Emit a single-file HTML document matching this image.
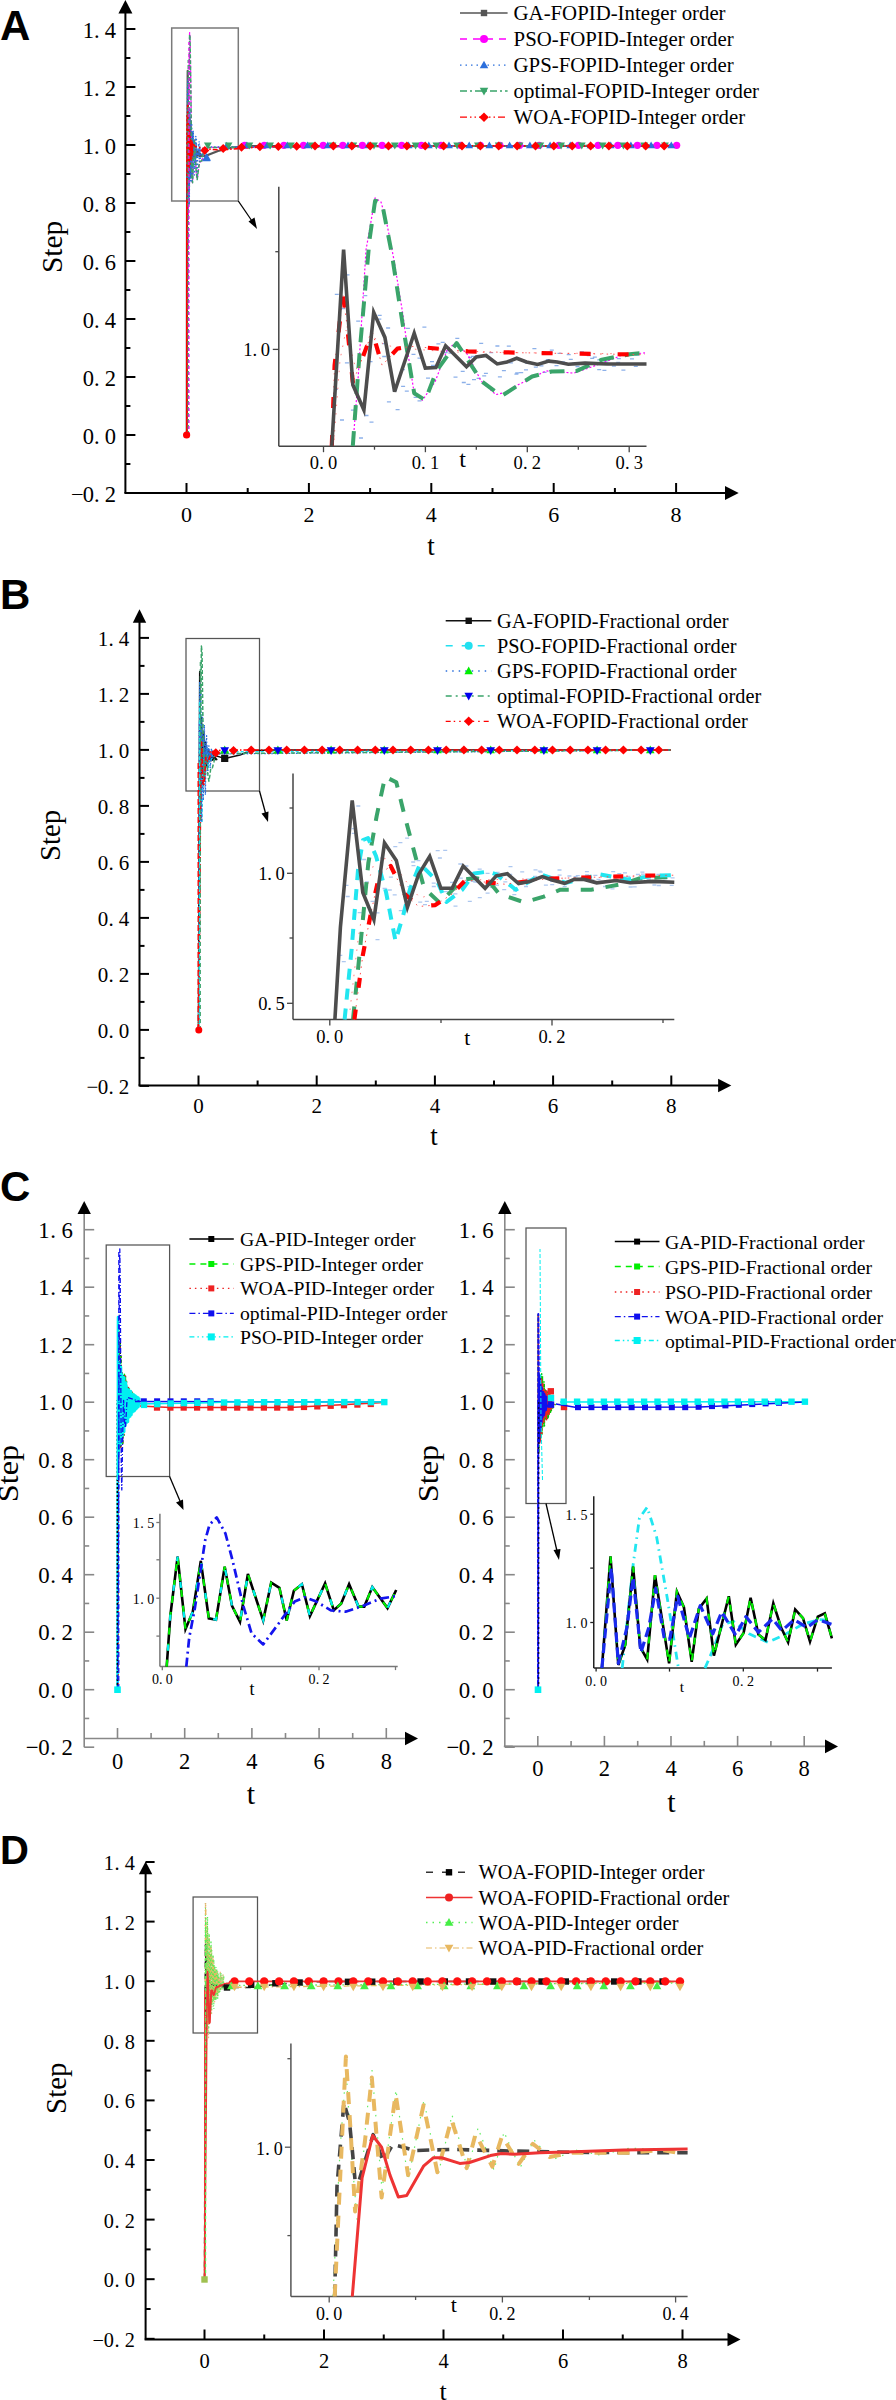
<!DOCTYPE html>
<html><head><meta charset="utf-8"><style>html,body{margin:0;padding:0;background:#fff;}svg{display:block;}</style></head>
<body><svg width="896" height="2400" viewBox="0 0 896 2400">
<rect width="896" height="2400" fill="#fff"/>
<text x="0" y="39.6" font-family='"Liberation Sans", sans-serif' font-size="42" font-weight="bold" text-anchor="start" fill="#000" >A</text>
<line x1="125.4" y1="12.4" x2="125.4" y2="493" stroke="#000" stroke-width="2" />
<polygon points="125.4,0 118.4,13.4 132.4,13.4" fill="#000"/>
<line x1="125.4" y1="29" x2="135.4" y2="29" stroke="#000" stroke-width="2" />
<text x="110.3" y="37.5" font-family='"Liberation Serif", serif' font-size="22.5" font-weight="normal" text-anchor="middle" fill="#000" >4</text>
<text x="96.88" y="37.5" font-family='"Liberation Serif", serif' font-size="22.5" font-weight="normal" text-anchor="middle" fill="#000" >.</text>
<text x="88.3" y="37.5" font-family='"Liberation Serif", serif' font-size="22.5" font-weight="normal" text-anchor="middle" fill="#000" >1</text>
<line x1="125.4" y1="58.0" x2="130.4" y2="58.0" stroke="#000" stroke-width="2" />
<line x1="125.4" y1="87" x2="135.4" y2="87" stroke="#000" stroke-width="2" />
<text x="110.3" y="95.5" font-family='"Liberation Serif", serif' font-size="22.5" font-weight="normal" text-anchor="middle" fill="#000" >2</text>
<text x="96.88" y="95.5" font-family='"Liberation Serif", serif' font-size="22.5" font-weight="normal" text-anchor="middle" fill="#000" >.</text>
<text x="88.3" y="95.5" font-family='"Liberation Serif", serif' font-size="22.5" font-weight="normal" text-anchor="middle" fill="#000" >1</text>
<line x1="125.4" y1="116.0" x2="130.4" y2="116.0" stroke="#000" stroke-width="2" />
<line x1="125.4" y1="145" x2="135.4" y2="145" stroke="#000" stroke-width="2" />
<text x="110.3" y="153.5" font-family='"Liberation Serif", serif' font-size="22.5" font-weight="normal" text-anchor="middle" fill="#000" >0</text>
<text x="96.88" y="153.5" font-family='"Liberation Serif", serif' font-size="22.5" font-weight="normal" text-anchor="middle" fill="#000" >.</text>
<text x="88.3" y="153.5" font-family='"Liberation Serif", serif' font-size="22.5" font-weight="normal" text-anchor="middle" fill="#000" >1</text>
<line x1="125.4" y1="174.0" x2="130.4" y2="174.0" stroke="#000" stroke-width="2" />
<line x1="125.4" y1="203" x2="135.4" y2="203" stroke="#000" stroke-width="2" />
<text x="110.3" y="211.5" font-family='"Liberation Serif", serif' font-size="22.5" font-weight="normal" text-anchor="middle" fill="#000" >8</text>
<text x="96.88" y="211.5" font-family='"Liberation Serif", serif' font-size="22.5" font-weight="normal" text-anchor="middle" fill="#000" >.</text>
<text x="88.3" y="211.5" font-family='"Liberation Serif", serif' font-size="22.5" font-weight="normal" text-anchor="middle" fill="#000" >0</text>
<line x1="125.4" y1="232.0" x2="130.4" y2="232.0" stroke="#000" stroke-width="2" />
<line x1="125.4" y1="261" x2="135.4" y2="261" stroke="#000" stroke-width="2" />
<text x="110.3" y="269.5" font-family='"Liberation Serif", serif' font-size="22.5" font-weight="normal" text-anchor="middle" fill="#000" >6</text>
<text x="96.88" y="269.5" font-family='"Liberation Serif", serif' font-size="22.5" font-weight="normal" text-anchor="middle" fill="#000" >.</text>
<text x="88.3" y="269.5" font-family='"Liberation Serif", serif' font-size="22.5" font-weight="normal" text-anchor="middle" fill="#000" >0</text>
<line x1="125.4" y1="290.0" x2="130.4" y2="290.0" stroke="#000" stroke-width="2" />
<line x1="125.4" y1="319" x2="135.4" y2="319" stroke="#000" stroke-width="2" />
<text x="110.3" y="327.5" font-family='"Liberation Serif", serif' font-size="22.5" font-weight="normal" text-anchor="middle" fill="#000" >4</text>
<text x="96.88" y="327.5" font-family='"Liberation Serif", serif' font-size="22.5" font-weight="normal" text-anchor="middle" fill="#000" >.</text>
<text x="88.3" y="327.5" font-family='"Liberation Serif", serif' font-size="22.5" font-weight="normal" text-anchor="middle" fill="#000" >0</text>
<line x1="125.4" y1="348.0" x2="130.4" y2="348.0" stroke="#000" stroke-width="2" />
<line x1="125.4" y1="377" x2="135.4" y2="377" stroke="#000" stroke-width="2" />
<text x="110.3" y="385.5" font-family='"Liberation Serif", serif' font-size="22.5" font-weight="normal" text-anchor="middle" fill="#000" >2</text>
<text x="96.88" y="385.5" font-family='"Liberation Serif", serif' font-size="22.5" font-weight="normal" text-anchor="middle" fill="#000" >.</text>
<text x="88.3" y="385.5" font-family='"Liberation Serif", serif' font-size="22.5" font-weight="normal" text-anchor="middle" fill="#000" >0</text>
<line x1="125.4" y1="406.0" x2="130.4" y2="406.0" stroke="#000" stroke-width="2" />
<line x1="125.4" y1="435" x2="135.4" y2="435" stroke="#000" stroke-width="2" />
<text x="110.3" y="443.5" font-family='"Liberation Serif", serif' font-size="22.5" font-weight="normal" text-anchor="middle" fill="#000" >0</text>
<text x="96.88" y="443.5" font-family='"Liberation Serif", serif' font-size="22.5" font-weight="normal" text-anchor="middle" fill="#000" >.</text>
<text x="88.3" y="443.5" font-family='"Liberation Serif", serif' font-size="22.5" font-weight="normal" text-anchor="middle" fill="#000" >0</text>
<line x1="125.4" y1="464.0" x2="130.4" y2="464.0" stroke="#000" stroke-width="2" />
<line x1="125.4" y1="493" x2="135.4" y2="493" stroke="#000" stroke-width="2" />
<text x="110.3" y="501.5" font-family='"Liberation Serif", serif' font-size="22.5" font-weight="normal" text-anchor="middle" fill="#000" >2</text>
<text x="96.88" y="501.5" font-family='"Liberation Serif", serif' font-size="22.5" font-weight="normal" text-anchor="middle" fill="#000" >.</text>
<text x="88.3" y="501.5" font-family='"Liberation Serif", serif' font-size="22.5" font-weight="normal" text-anchor="middle" fill="#000" >0</text>
<text x="77.3" y="501.5" font-family='"Liberation Serif", serif' font-size="22.5" font-weight="normal" text-anchor="middle" fill="#000" >&#8722;</text>
<line x1="124.4" y1="493" x2="726.0" y2="493" stroke="#000" stroke-width="2" />
<polygon points="738.7,493 725.0,486.1 725.0,499.9" fill="#000"/>
<line x1="186.5" y1="483" x2="186.5" y2="493" stroke="#000" stroke-width="2" />
<text x="186.5" y="521.5" font-family='"Liberation Serif", serif' font-size="22" font-weight="normal" text-anchor="middle" fill="#000" >0</text>
<line x1="247.7" y1="488" x2="247.7" y2="493" stroke="#000" stroke-width="2" />
<line x1="308.9" y1="483" x2="308.9" y2="493" stroke="#000" stroke-width="2" />
<text x="308.9" y="521.5" font-family='"Liberation Serif", serif' font-size="22" font-weight="normal" text-anchor="middle" fill="#000" >2</text>
<line x1="370.1" y1="488" x2="370.1" y2="493" stroke="#000" stroke-width="2" />
<line x1="431.3" y1="483" x2="431.3" y2="493" stroke="#000" stroke-width="2" />
<text x="431.3" y="521.5" font-family='"Liberation Serif", serif' font-size="22" font-weight="normal" text-anchor="middle" fill="#000" >4</text>
<line x1="492.5" y1="488" x2="492.5" y2="493" stroke="#000" stroke-width="2" />
<line x1="553.7" y1="483" x2="553.7" y2="493" stroke="#000" stroke-width="2" />
<text x="553.7" y="521.5" font-family='"Liberation Serif", serif' font-size="22" font-weight="normal" text-anchor="middle" fill="#000" >6</text>
<line x1="614.9000000000001" y1="488" x2="614.9000000000001" y2="493" stroke="#000" stroke-width="2" />
<line x1="676.1" y1="483" x2="676.1" y2="493" stroke="#000" stroke-width="2" />
<text x="676.1" y="521.5" font-family='"Liberation Serif", serif' font-size="22" font-weight="normal" text-anchor="middle" fill="#000" >8</text>
<text x="431" y="555" font-family='"Liberation Serif", serif' font-size="27" font-weight="normal" text-anchor="middle" fill="#000" >t</text>
<text x="0" y="0" font-family='"Liberation Serif", serif' font-size="29.5" text-anchor="middle" transform="translate(61.8,246.9) rotate(-90)">Step</text>
<rect x="171.7" y="28" width="66.6" height="173" fill="none" stroke="#7a7a7a" stroke-width="1.5"/>
<line x1="238.3" y1="201" x2="252" y2="221" stroke="#000" stroke-width="1.3" />
<polygon points="257,229 248.5,221.5 254.5,217.5" fill="#000"/>
<polyline points="186.8,435.0 187.0,216.7 187.7,70.9 188.3,171.3 188.9,190.0 189.5,117.5 190.2,136.1 190.8,176.5 191.9,133.0 192.6,158.9 193.2,158.4 193.8,142.3 195.1,157.8 195.7,150.6 196.2,149.5 196.9,155.8 197.5,154.4 198.1,151.6 198.7,154.4 199.4,156.2 200.0,153.7 200.5,154.4 201.2,156.0 202.2,155.2 203.5,155.8 205.9,155.8 218.0,151.0 232.0,147.5 250.0,146.0 679.0,146.0" fill="none" stroke="#555" stroke-width="2.2" stroke-linecap="butt" stroke-linejoin="round" />
<polyline points="186.8,435.0 188.3,216.7 188.6,167.7 189.1,71.2 189.6,32.6 189.9,35.6 190.3,49.1 190.7,78.7 191.3,119.5 191.6,152.9 191.9,177.5 192.4,182.7 193.2,169.2 193.9,144.4 194.4,140.3 195.2,149.2 195.9,168.4 196.8,178.5 197.5,176.6 198.2,171.3 199.8,161.0 201.5,162.6 202.9,156.8 204.4,149.5 205.8,147.5 679.0,145.0" fill="none" stroke="#ff00ff" stroke-width="1.3" stroke-dasharray="3,2" stroke-linecap="butt" stroke-linejoin="round" />
<polyline points="186.8,435.0 187.1,216.7 187.2,138.0 187.4,100.9 187.7,80.1 187.9,130.6 188.2,197.4 188.4,171.4 188.6,108.3 188.9,138.0 189.3,204.8 189.7,130.6 190.0,108.3 190.4,167.7 190.7,182.5 191.1,130.6 191.7,123.2 192.2,182.5 192.7,175.1 193.2,130.6 193.8,145.4 194.4,175.1 195.1,141.7 195.8,136.5 196.5,167.7 197.1,176.6 197.8,152.9 198.7,149.2 199.5,161.8 200.7,156.6 201.9,152.9 203.1,154.4 204.3,151.4 205.8,146.9 679.0,145.5" fill="none" stroke="#2b6fdc" stroke-width="1.4" stroke-dasharray="1.5,2" stroke-linecap="butt" stroke-linejoin="round" />
<polyline points="187.5,300.0 188.2,122.5 189.0,192.9 189.2,126.8 188.2,184.9 190.4,128.0 190.7,178.3 190.2,128.1 190.8,177.2 190.1,130.1 191.0,175.8 192.4,131.7 192.8,168.1 192.9,133.2 192.0,169.8 192.8,135.3 194.7,167.4 193.7,141.1 194.6,164.2 194.3,142.1 195.7,164.1 196.5,139.3 195.8,157.7 195.8,138.8 196.4,158.9 196.2,143.3 197.3,155.9 198.6,142.8 198.0,155.9 199.2,140.9 200.1,152.1 200.0,146.1 199.0,155.9 200.0,145.0 199.7,150.7 200.4,147.7 200.9,154.3 202.7,148.0 201.9,151.3 202.7,147.3 202.2,153.2" fill="none" stroke="#2b6fdc" stroke-width="1.2" stroke-dasharray="1.2,3" stroke-linecap="butt" stroke-linejoin="round" />
<polyline points="186.8,435.0 188.3,216.7 188.7,146.5 189.3,63.7 189.6,34.7 190.0,36.7 190.6,74.0 191.3,127.9 191.9,177.5 192.6,182.7 193.3,161.0 194.5,140.3 196.0,168.9 197.2,179.6 199.0,165.1 200.2,161.4 201.7,161.0 203.2,152.6 204.9,148.6 205.8,147.5 679.0,145.0" fill="none" stroke="#3aa46a" stroke-width="1.5" stroke-dasharray="4,2" stroke-linecap="butt" stroke-linejoin="round" />
<polyline points="186.8,435.0 187.0,216.7 187.2,156.8 187.7,105.1 187.9,127.9 188.3,169.2 188.7,156.8 189.4,131.9 190.0,156.8 190.9,144.4 191.8,142.7 195.2,146.5 198.5,147.5 205.8,148.9 220.0,150.0 240.0,148.5 260.0,147.0 300.0,146.0 679.0,145.8" fill="none" stroke="#ff0000" stroke-width="1.6" stroke-dasharray="5,2,1.5,2" stroke-linecap="butt" stroke-linejoin="round" />
<polyline points="187.0,115.0 186.9,190.4 187.0,115.7 187.9,170.0 187.8,116.8 187.5,173.2 188.3,122.9 188.5,167.0 188.2,130.8 188.6,176.3 188.9,123.3 188.9,171.0 188.9,131.9 189.5,168.4 189.5,135.8 189.5,160.8 189.7,129.9 189.9,165.9 190.6,138.5 190.4,160.7 190.3,136.5 191.1,156.5 191.1,139.9 191.2,161.0 191.1,141.5 191.2,157.5 191.3,141.7 191.9,158.6 192.0,140.7 192.4,153.4 192.5,142.5 192.7,156.7 192.5,141.5 193.1,152.6" fill="none" stroke="#ff0000" stroke-width="1.0" stroke-dasharray="2,2.5" stroke-linecap="butt" stroke-linejoin="round" />
<polyline points="186.8,435.0 186.8,200.0" fill="none" stroke="#ff0000" stroke-width="1.6" stroke-linecap="butt" stroke-linejoin="miter" />
<polyline points="188.2,435.0 188.2,60.0" fill="none" stroke="#3aa46a" stroke-width="1.4" stroke-dasharray="4,2" stroke-linecap="butt" stroke-linejoin="miter" />
<polyline points="189.0,435.0 189.0,40.0" fill="none" stroke="#ff00ff" stroke-width="1.2" stroke-dasharray="3,3" stroke-linecap="butt" stroke-linejoin="miter" />
<circle cx="186.6" cy="435" r="3.6" fill="#ff0000"/>
<circle cx="244.6" cy="145.3" r="3.6" fill="#ff00ff"/>
<circle cx="264.2" cy="145.3" r="3.6" fill="#ff00ff"/>
<circle cx="283.9" cy="145.3" r="3.6" fill="#ff00ff"/>
<circle cx="303.5" cy="145.3" r="3.6" fill="#ff00ff"/>
<circle cx="323.2" cy="145.3" r="3.6" fill="#ff00ff"/>
<circle cx="342.8" cy="145.3" r="3.6" fill="#ff00ff"/>
<circle cx="362.4" cy="145.3" r="3.6" fill="#ff00ff"/>
<circle cx="382.1" cy="145.3" r="3.6" fill="#ff00ff"/>
<circle cx="401.7" cy="145.3" r="3.6" fill="#ff00ff"/>
<circle cx="421.4" cy="145.3" r="3.6" fill="#ff00ff"/>
<circle cx="441.0" cy="145.3" r="3.6" fill="#ff00ff"/>
<circle cx="460.6" cy="145.3" r="3.6" fill="#ff00ff"/>
<circle cx="480.3" cy="145.3" r="3.6" fill="#ff00ff"/>
<circle cx="499.9" cy="145.3" r="3.6" fill="#ff00ff"/>
<circle cx="519.6" cy="145.3" r="3.6" fill="#ff00ff"/>
<circle cx="539.2" cy="145.3" r="3.6" fill="#ff00ff"/>
<circle cx="558.8" cy="145.3" r="3.6" fill="#ff00ff"/>
<circle cx="578.5" cy="145.3" r="3.6" fill="#ff00ff"/>
<circle cx="598.1" cy="145.3" r="3.6" fill="#ff00ff"/>
<circle cx="617.8" cy="145.3" r="3.6" fill="#ff00ff"/>
<circle cx="637.4" cy="145.3" r="3.6" fill="#ff00ff"/>
<circle cx="657.0" cy="145.3" r="3.6" fill="#ff00ff"/>
<circle cx="676.7" cy="145.3" r="3.6" fill="#ff00ff"/>
<polygon points="206.5,154.4 202.605,161.37 210.395,161.37" fill="#2b6fdc"/>
<polygon points="226.7,141.8 222.80499999999998,148.77 230.595,148.77" fill="#2b6fdc"/>
<polygon points="246.9,141.4 243.005,148.37 250.79500000000002,148.37" fill="#2b6fdc"/>
<polygon points="267.1,141.4 263.20500000000004,148.37 270.995,148.37" fill="#2b6fdc"/>
<polygon points="287.3,141.4 283.40500000000003,148.37 291.195,148.37" fill="#2b6fdc"/>
<polygon points="307.5,141.4 303.605,148.37 311.395,148.37" fill="#2b6fdc"/>
<polygon points="327.8,141.4 323.90500000000003,148.37 331.695,148.37" fill="#2b6fdc"/>
<polygon points="348.0,141.4 344.105,148.37 351.895,148.37" fill="#2b6fdc"/>
<polygon points="368.2,141.4 364.305,148.37 372.09499999999997,148.37" fill="#2b6fdc"/>
<polygon points="388.4,141.4 384.505,148.37 392.29499999999996,148.37" fill="#2b6fdc"/>
<polygon points="408.6,141.4 404.70500000000004,148.37 412.495,148.37" fill="#2b6fdc"/>
<polygon points="428.8,141.4 424.90500000000003,148.37 432.695,148.37" fill="#2b6fdc"/>
<polygon points="449.0,141.4 445.105,148.37 452.895,148.37" fill="#2b6fdc"/>
<polygon points="469.2,141.4 465.305,148.37 473.09499999999997,148.37" fill="#2b6fdc"/>
<polygon points="489.4,141.4 485.505,148.37 493.29499999999996,148.37" fill="#2b6fdc"/>
<polygon points="509.6,141.4 505.70500000000004,148.37 513.495,148.37" fill="#2b6fdc"/>
<polygon points="529.9,141.4 526.005,148.37 533.795,148.37" fill="#2b6fdc"/>
<polygon points="550.1,141.4 546.205,148.37 553.995,148.37" fill="#2b6fdc"/>
<polygon points="570.3,141.4 566.405,148.37 574.1949999999999,148.37" fill="#2b6fdc"/>
<polygon points="590.5,141.4 586.605,148.37 594.395,148.37" fill="#2b6fdc"/>
<polygon points="610.7,141.4 606.8050000000001,148.37 614.595,148.37" fill="#2b6fdc"/>
<polygon points="630.9,141.4 627.005,148.37 634.795,148.37" fill="#2b6fdc"/>
<polygon points="651.1,141.4 647.205,148.37 654.995,148.37" fill="#2b6fdc"/>
<polygon points="671.3,141.4 667.405,148.37 675.1949999999999,148.37" fill="#2b6fdc"/>
<polygon points="207.8,149.4 203.905,142.43 211.69500000000002,142.43" fill="#3aa46a"/>
<polygon points="228.6,149.4 224.70499999999998,142.43 232.495,142.43" fill="#3aa46a"/>
<polygon points="249.4,149.4 245.505,142.43 253.29500000000002,142.43" fill="#3aa46a"/>
<polygon points="270.1,149.4 266.20500000000004,142.43 273.995,142.43" fill="#3aa46a"/>
<polygon points="290.9,149.4 287.005,142.43 294.79499999999996,142.43" fill="#3aa46a"/>
<polygon points="311.7,149.4 307.805,142.43 315.59499999999997,142.43" fill="#3aa46a"/>
<polygon points="332.5,149.4 328.605,142.43 336.395,142.43" fill="#3aa46a"/>
<polygon points="353.3,149.4 349.40500000000003,142.43 357.195,142.43" fill="#3aa46a"/>
<polygon points="374.0,149.4 370.105,142.43 377.895,142.43" fill="#3aa46a"/>
<polygon points="394.8,149.4 390.90500000000003,142.43 398.695,142.43" fill="#3aa46a"/>
<polygon points="415.6,149.4 411.70500000000004,142.43 419.495,142.43" fill="#3aa46a"/>
<polygon points="436.4,149.4 432.505,142.43 440.29499999999996,142.43" fill="#3aa46a"/>
<polygon points="457.2,149.4 453.305,142.43 461.09499999999997,142.43" fill="#3aa46a"/>
<polygon points="477.9,149.4 474.005,142.43 481.79499999999996,142.43" fill="#3aa46a"/>
<polygon points="498.7,149.4 494.805,142.43 502.59499999999997,142.43" fill="#3aa46a"/>
<polygon points="519.5,149.4 515.605,142.43 523.395,142.43" fill="#3aa46a"/>
<polygon points="540.3,149.4 536.405,142.43 544.1949999999999,142.43" fill="#3aa46a"/>
<polygon points="561.1,149.4 557.205,142.43 564.995,142.43" fill="#3aa46a"/>
<polygon points="581.8,149.4 577.905,142.43 585.6949999999999,142.43" fill="#3aa46a"/>
<polygon points="602.6,149.4 598.705,142.43 606.495,142.43" fill="#3aa46a"/>
<polygon points="623.4,149.4 619.505,142.43 627.295,142.43" fill="#3aa46a"/>
<polygon points="644.2,149.4 640.3050000000001,142.43 648.095,142.43" fill="#3aa46a"/>
<polygon points="665.0,149.4 661.105,142.43 668.895,142.43" fill="#3aa46a"/>
<polygon points="204.8,145.9 209.3,150.4 204.8,154.9 200.3,150.4" fill="#ff0000"/>
<polygon points="223.2,143.9 227.7,148.4 223.2,152.9 218.7,148.4" fill="#ff0000"/>
<polygon points="241.5,142.8 246.0,147.3 241.5,151.8 237.0,147.3" fill="#ff0000"/>
<polygon points="259.9,142.2 264.4,146.7 259.9,151.2 255.39999999999998,146.7" fill="#ff0000"/>
<polygon points="278.3,141.9 282.8,146.4 278.3,150.9 273.8,146.4" fill="#ff0000"/>
<polygon points="296.7,141.7 301.2,146.2 296.7,150.7 292.2,146.2" fill="#ff0000"/>
<polygon points="315.0,141.6 319.5,146.1 315.0,150.6 310.5,146.1" fill="#ff0000"/>
<polygon points="333.4,141.6 337.9,146.1 333.4,150.6 328.9,146.1" fill="#ff0000"/>
<polygon points="351.8,141.5 356.3,146.0 351.8,150.5 347.3,146.0" fill="#ff0000"/>
<polygon points="370.1,141.5 374.6,146.0 370.1,150.5 365.6,146.0" fill="#ff0000"/>
<polygon points="388.5,141.5 393.0,146.0 388.5,150.5 384.0,146.0" fill="#ff0000"/>
<polygon points="406.9,141.5 411.4,146.0 406.9,150.5 402.4,146.0" fill="#ff0000"/>
<polygon points="425.2,141.5 429.7,146.0 425.2,150.5 420.7,146.0" fill="#ff0000"/>
<polygon points="443.6,141.5 448.1,146.0 443.6,150.5 439.1,146.0" fill="#ff0000"/>
<polygon points="462.0,141.5 466.5,146.0 462.0,150.5 457.5,146.0" fill="#ff0000"/>
<polygon points="480.4,141.5 484.9,146.0 480.4,150.5 475.9,146.0" fill="#ff0000"/>
<polygon points="498.7,141.5 503.2,146.0 498.7,150.5 494.2,146.0" fill="#ff0000"/>
<polygon points="517.1,141.5 521.6,146.0 517.1,150.5 512.6,146.0" fill="#ff0000"/>
<polygon points="535.5,141.5 540.0,146.0 535.5,150.5 531.0,146.0" fill="#ff0000"/>
<polygon points="553.8,141.5 558.3,146.0 553.8,150.5 549.3,146.0" fill="#ff0000"/>
<polygon points="572.2,141.5 576.7,146.0 572.2,150.5 567.7,146.0" fill="#ff0000"/>
<polygon points="590.6,141.5 595.1,146.0 590.6,150.5 586.1,146.0" fill="#ff0000"/>
<polygon points="608.9,141.5 613.4,146.0 608.9,150.5 604.4,146.0" fill="#ff0000"/>
<polygon points="627.3,141.5 631.8,146.0 627.3,150.5 622.8,146.0" fill="#ff0000"/>
<polygon points="645.7,141.5 650.2,146.0 645.7,150.5 641.2,146.0" fill="#ff0000"/>
<polygon points="664.1,141.5 668.6,146.0 664.1,150.5 659.6,146.0" fill="#ff0000"/>
<polygon points="206.6,152.9 202.23,160.72 210.97,160.72" fill="#2b6fdc"/>
<polyline points="460.0,13.0 507.6,13.0" fill="none" stroke="#555" stroke-width="1.5" stroke-linecap="butt" stroke-linejoin="miter" />
<rect x="480.8" y="9.8" width="6.4" height="6.4" fill="#555"/>
<text x="513.6" y="20" font-family='"Liberation Serif", serif' font-size="20.8" font-weight="normal" text-anchor="start" fill="#000" >GA-FOPID-Integer order</text>
<polyline points="460.0,39.0 507.6,39.0" fill="none" stroke="#ff00ff" stroke-width="1.3" stroke-dasharray="7,6" stroke-linecap="butt" stroke-linejoin="miter" />
<circle cx="484" cy="39" r="4" fill="#ff00ff"/>
<text x="513.6" y="46" font-family='"Liberation Serif", serif' font-size="20.8" font-weight="normal" text-anchor="start" fill="#000" >PSO-FOPID-Integer order</text>
<polyline points="460.0,65.2 507.6,65.2" fill="none" stroke="#2b6fdc" stroke-width="1.3" stroke-dasharray="1.5,4" stroke-linecap="butt" stroke-linejoin="miter" />
<polygon points="484,60.7 479.725,68.35000000000001 488.275,68.35000000000001" fill="#2b6fdc"/>
<text x="513.6" y="72.2" font-family='"Liberation Serif", serif' font-size="20.8" font-weight="normal" text-anchor="start" fill="#000" >GPS-FOPID-Integer order</text>
<polyline points="460.0,91.0 507.6,91.0" fill="none" stroke="#3aa46a" stroke-width="1.3" stroke-dasharray="7,3,2,3" stroke-linecap="butt" stroke-linejoin="miter" />
<polygon points="484,95.5 479.725,87.85 488.275,87.85" fill="#3aa46a"/>
<text x="513.6" y="98" font-family='"Liberation Serif", serif' font-size="20.8" font-weight="normal" text-anchor="start" fill="#000" >optimal-FOPID-Integer order</text>
<polyline points="460.0,117.2 507.6,117.2" fill="none" stroke="#ff0000" stroke-width="1.3" stroke-dasharray="7,3,1.5,3,1.5,3" stroke-linecap="butt" stroke-linejoin="miter" />
<polygon points="484,112.4 488.8,117.2 484,122.0 479.2,117.2" fill="#ff0000"/>
<text x="513.6" y="124.2" font-family='"Liberation Serif", serif' font-size="20.8" font-weight="normal" text-anchor="start" fill="#000" >WOA-FOPID-Integer order</text>
<line x1="278.8" y1="186.7" x2="278.8" y2="446.2" stroke="#444" stroke-width="1.5" />
<line x1="278.8" y1="446.2" x2="646.5" y2="446.2" stroke="#444" stroke-width="1.5" />
<line x1="272.8" y1="349.4" x2="278.8" y2="349.4" stroke="#444" stroke-width="1.3" />
<text x="265.35" y="356.4" font-family='"Liberation Serif", serif' font-size="18.5" font-weight="normal" text-anchor="middle" fill="#000" >0</text>
<text x="254.74" y="356.4" font-family='"Liberation Serif", serif' font-size="18.5" font-weight="normal" text-anchor="middle" fill="#000" >.</text>
<text x="247.95" y="356.4" font-family='"Liberation Serif", serif' font-size="18.5" font-weight="normal" text-anchor="middle" fill="#000" >1</text>
<line x1="275.3" y1="251.7" x2="278.8" y2="251.7" stroke="#444" stroke-width="1.3" />
<line x1="323.5" y1="446.2" x2="323.5" y2="452.2" stroke="#444" stroke-width="1.3" />
<text x="332.6" y="469.2" font-family='"Liberation Serif", serif' font-size="18.5" font-weight="normal" text-anchor="middle" fill="#000" >0</text>
<text x="321.5" y="469.2" font-family='"Liberation Serif", serif' font-size="18.5" font-weight="normal" text-anchor="middle" fill="#000" >.</text>
<text x="314.4" y="469.2" font-family='"Liberation Serif", serif' font-size="18.5" font-weight="normal" text-anchor="middle" fill="#000" >0</text>
<line x1="425.4" y1="446.2" x2="425.4" y2="452.2" stroke="#444" stroke-width="1.3" />
<text x="434.5" y="469.2" font-family='"Liberation Serif", serif' font-size="18.5" font-weight="normal" text-anchor="middle" fill="#000" >1</text>
<text x="423.4" y="469.2" font-family='"Liberation Serif", serif' font-size="18.5" font-weight="normal" text-anchor="middle" fill="#000" >.</text>
<text x="416.3" y="469.2" font-family='"Liberation Serif", serif' font-size="18.5" font-weight="normal" text-anchor="middle" fill="#000" >0</text>
<line x1="527.3" y1="446.2" x2="527.3" y2="452.2" stroke="#444" stroke-width="1.3" />
<text x="536.4" y="469.2" font-family='"Liberation Serif", serif' font-size="18.5" font-weight="normal" text-anchor="middle" fill="#000" >2</text>
<text x="525.3" y="469.2" font-family='"Liberation Serif", serif' font-size="18.5" font-weight="normal" text-anchor="middle" fill="#000" >.</text>
<text x="518.2" y="469.2" font-family='"Liberation Serif", serif' font-size="18.5" font-weight="normal" text-anchor="middle" fill="#000" >0</text>
<line x1="629.2" y1="446.2" x2="629.2" y2="452.2" stroke="#444" stroke-width="1.3" />
<text x="638.3" y="469.2" font-family='"Liberation Serif", serif' font-size="18.5" font-weight="normal" text-anchor="middle" fill="#000" >3</text>
<text x="627.2" y="469.2" font-family='"Liberation Serif", serif' font-size="18.5" font-weight="normal" text-anchor="middle" fill="#000" >.</text>
<text x="620.1" y="469.2" font-family='"Liberation Serif", serif' font-size="18.5" font-weight="normal" text-anchor="middle" fill="#000" >0</text>
<line x1="374.5" y1="446.2" x2="374.5" y2="449.7" stroke="#444" stroke-width="1.3" />
<line x1="476.3" y1="446.2" x2="476.3" y2="449.7" stroke="#444" stroke-width="1.3" />
<line x1="578.3" y1="446.2" x2="578.3" y2="449.7" stroke="#444" stroke-width="1.3" />
<text x="462.7" y="467" font-family='"Liberation Serif", serif' font-size="24" font-weight="normal" text-anchor="middle" fill="#000" >t</text>
<path d="M334.8,294.3h4 M333.9,389.3h4 M341.2,308.5h4 M340.0,420.0h4 M344.9,362.9h4 M345.5,274.8h4 M350.3,376.0h4 M350.9,410.1h4 M356.2,321.2h4 M359.0,438.0h4 M364.5,415.5h4 M363.3,295.6h4 M368.5,361.7h4 M369.5,422.2h4 M377.3,319.1h4 M377.7,315.3h4 M382.2,356.5h4 M381.9,343.7h4 M386.1,328.0h4 M386.9,401.8h4 M392.8,390.5h4 M395.6,409.7h4 M401.1,386.3h4 M400.9,369.7h4 M405.9,328.3h4 M404.8,391.2h4 M413.6,397.4h4 M411.5,354.4h4 M417.5,358.2h4 M417.5,400.8h4 M422.4,327.1h4 M426.0,378.1h4 M430.0,361.7h4 M431.0,365.5h4 M436.4,343.9h4 M436.5,365.7h4 M440.7,342.4h4 M443.7,352.7h4 M448.4,353.2h4 M446.4,350.8h4 M455.3,338.4h4 M453.5,377.1h4 M460.7,371.4h4 M461.8,382.5h4 M468.0,357.5h4 M466.4,384.4h4 M472.0,379.6h4 M471.0,356.3h4 M476.6,378.3h4 M479.2,343.3h4 M483.9,373.3h4 M482.2,375.9h4 M489.2,352.6h4 M488.7,358.9h4 M495.4,346.0h4 M497.9,376.8h4 M501.9,370.7h4 M503.8,353.3h4 M508.9,362.9h4 M506.8,346.2h4 M515.2,372.8h4 M514.4,374.2h4 M520.3,359.7h4 M519.2,372.7h4 M525.1,363.0h4 M524.0,369.8h4 M533.8,367.2h4 M532.4,348.7h4 M539.4,365.9h4 M537.0,364.3h4 M545.8,359.6h4 M542.5,372.4h4 M548.4,352.0h4 M549.8,350.2h4 M557.5,353.4h4 M554.5,365.7h4 M561.3,362.9h4 M560.9,361.9h4 M566.7,354.6h4 M568.8,359.3h4 M572.2,363.1h4 M575.5,366.5h4 M581.2,367.7h4 M579.9,351.8h4 M587.1,353.2h4 M586.8,355.5h4 M592.8,357.2h4 M590.2,358.4h4 M597.2,359.9h4 M597.2,369.6h4 M604.2,362.1h4 M602.4,370.3h4 M610.0,363.8h4 M611.9,366.2h4 M616.8,358.7h4 M616.2,362.5h4 M623.3,354.5h4 M621.4,370.2h4 M630.0,358.9h4 M626.3,355.4h4 M635.3,355.0h4 M633.8,366.3h4 M638.1,364.0h4 M639.8,364.3h4" stroke="#5b8fe0" stroke-width="1.3" fill="none" opacity="0.7"/>
<polyline points="334.0,440.0 340.0,360.0 346.0,330.0 356.0,370.0 370.0,335.0 385.0,345.0 400.0,348.0 450.0,352.0 645.0,354.0" fill="none" stroke="#ff7070" stroke-width="0.9" stroke-dasharray="1.5,7" stroke-linecap="butt" stroke-linejoin="miter" />
<polyline points="352.8,446.0 358.0,380.0 366.0,250.0 375.1,197.9 381.0,202.0 386.2,220.2 394.0,260.0 403.0,315.1 409.0,360.0 414.2,393.2 422.5,400.2 435.0,382.0 447.6,348.6 456.0,343.0 468.0,355.0 481.0,381.0 495.8,394.6 507.0,392.0 518.1,384.8 546.0,370.9 573.9,373.1 596.2,365.3 621.4,355.5 645.0,352.8" fill="none" stroke="#ff00ff" stroke-width="1.2" stroke-dasharray="2,2" stroke-linecap="butt" stroke-linejoin="round" />
<polyline points="352.8,446.0 359.7,351.4 369.5,239.8 375.1,200.7 382.1,203.5 391.8,253.7 403.0,326.3 414.2,393.2 425.3,400.2 436.5,370.9 456.7,343.0 481.9,381.6 501.4,396.0 532.1,376.5 551.6,371.5 576.7,370.9 601.8,359.7 629.7,354.2 645.0,352.8" fill="none" stroke="#3aa46a" stroke-width="4" stroke-dasharray="15,11" stroke-linecap="butt" stroke-linejoin="round" />
<polyline points="331.8,446.0 334.6,365.3 343.0,295.6 347.2,326.3 352.8,382.0 359.7,365.3 372.3,331.8 382.1,365.3 397.4,348.6 411.4,346.3 467.9,351.4 523.7,352.8 645.0,354.7" fill="none" stroke="#ff5050" stroke-width="1.0" stroke-dasharray="1.5,5" stroke-linecap="butt" stroke-linejoin="round" />
<polyline points="331.8,446.0 334.6,365.3 343.0,295.6 347.2,326.3 352.8,382.0 359.7,365.3 372.3,331.8 382.1,365.3 397.4,348.6 411.4,346.3 467.9,351.4 523.7,352.8 645.0,354.7" fill="none" stroke="#ff0000" stroke-width="4.2" stroke-dasharray="11,27" stroke-linecap="butt" stroke-linejoin="round" />
<polyline points="331.8,446.0 343.6,249.5 352.8,384.8 363.9,410.0 373.7,312.3 384.9,337.4 394.6,391.8 414.2,333.2 425.3,368.1 435.9,367.5 445.6,345.8 466.5,366.7 476.3,357.0 486.0,355.5 497.2,363.9 507.0,362.0 516.7,358.3 526.5,362.0 537.7,364.5 548.8,361.1 557.2,362.0 568.3,364.2 585.0,363.1 607.4,364.0 646.5,364.0" fill="none" stroke="#4d4d4d" stroke-width="3.6" stroke-linecap="butt" stroke-linejoin="miter" />
<text x="0" y="608.9" font-family='"Liberation Sans", sans-serif' font-size="42" font-weight="bold" text-anchor="start" fill="#000" >B</text>
<line x1="139.5" y1="621.6999999999999" x2="139.5" y2="1085.5" stroke="#000" stroke-width="2" />
<polygon points="139.5,609.3 132.8,622.6999999999999 146.2,622.6999999999999" fill="#000"/>
<line x1="139.5" y1="637.9" x2="149.0" y2="637.9" stroke="#000" stroke-width="2" />
<text x="124.1" y="646.1999999999999" font-family='"Liberation Serif", serif' font-size="21" font-weight="normal" text-anchor="middle" fill="#000" >4</text>
<text x="111.17" y="646.1999999999999" font-family='"Liberation Serif", serif' font-size="21" font-weight="normal" text-anchor="middle" fill="#000" >.</text>
<text x="102.9" y="646.1999999999999" font-family='"Liberation Serif", serif' font-size="21" font-weight="normal" text-anchor="middle" fill="#000" >1</text>
<line x1="139.5" y1="665.9" x2="144.5" y2="665.9" stroke="#000" stroke-width="2" />
<line x1="139.5" y1="693.9" x2="149.0" y2="693.9" stroke="#000" stroke-width="2" />
<text x="124.1" y="702.1999999999999" font-family='"Liberation Serif", serif' font-size="21" font-weight="normal" text-anchor="middle" fill="#000" >2</text>
<text x="111.17" y="702.1999999999999" font-family='"Liberation Serif", serif' font-size="21" font-weight="normal" text-anchor="middle" fill="#000" >.</text>
<text x="102.9" y="702.1999999999999" font-family='"Liberation Serif", serif' font-size="21" font-weight="normal" text-anchor="middle" fill="#000" >1</text>
<line x1="139.5" y1="721.9" x2="144.5" y2="721.9" stroke="#000" stroke-width="2" />
<line x1="139.5" y1="749.9" x2="149.0" y2="749.9" stroke="#000" stroke-width="2" />
<text x="124.1" y="758.1999999999999" font-family='"Liberation Serif", serif' font-size="21" font-weight="normal" text-anchor="middle" fill="#000" >0</text>
<text x="111.17" y="758.1999999999999" font-family='"Liberation Serif", serif' font-size="21" font-weight="normal" text-anchor="middle" fill="#000" >.</text>
<text x="102.9" y="758.1999999999999" font-family='"Liberation Serif", serif' font-size="21" font-weight="normal" text-anchor="middle" fill="#000" >1</text>
<line x1="139.5" y1="777.9" x2="144.5" y2="777.9" stroke="#000" stroke-width="2" />
<line x1="139.5" y1="805.9" x2="149.0" y2="805.9" stroke="#000" stroke-width="2" />
<text x="124.1" y="814.1999999999999" font-family='"Liberation Serif", serif' font-size="21" font-weight="normal" text-anchor="middle" fill="#000" >8</text>
<text x="111.17" y="814.1999999999999" font-family='"Liberation Serif", serif' font-size="21" font-weight="normal" text-anchor="middle" fill="#000" >.</text>
<text x="102.9" y="814.1999999999999" font-family='"Liberation Serif", serif' font-size="21" font-weight="normal" text-anchor="middle" fill="#000" >0</text>
<line x1="139.5" y1="833.9" x2="144.5" y2="833.9" stroke="#000" stroke-width="2" />
<line x1="139.5" y1="861.9" x2="149.0" y2="861.9" stroke="#000" stroke-width="2" />
<text x="124.1" y="870.1999999999999" font-family='"Liberation Serif", serif' font-size="21" font-weight="normal" text-anchor="middle" fill="#000" >6</text>
<text x="111.17" y="870.1999999999999" font-family='"Liberation Serif", serif' font-size="21" font-weight="normal" text-anchor="middle" fill="#000" >.</text>
<text x="102.9" y="870.1999999999999" font-family='"Liberation Serif", serif' font-size="21" font-weight="normal" text-anchor="middle" fill="#000" >0</text>
<line x1="139.5" y1="889.9" x2="144.5" y2="889.9" stroke="#000" stroke-width="2" />
<line x1="139.5" y1="917.9" x2="149.0" y2="917.9" stroke="#000" stroke-width="2" />
<text x="124.1" y="926.1999999999999" font-family='"Liberation Serif", serif' font-size="21" font-weight="normal" text-anchor="middle" fill="#000" >4</text>
<text x="111.17" y="926.1999999999999" font-family='"Liberation Serif", serif' font-size="21" font-weight="normal" text-anchor="middle" fill="#000" >.</text>
<text x="102.9" y="926.1999999999999" font-family='"Liberation Serif", serif' font-size="21" font-weight="normal" text-anchor="middle" fill="#000" >0</text>
<line x1="139.5" y1="945.9" x2="144.5" y2="945.9" stroke="#000" stroke-width="2" />
<line x1="139.5" y1="973.9" x2="149.0" y2="973.9" stroke="#000" stroke-width="2" />
<text x="124.1" y="982.1999999999999" font-family='"Liberation Serif", serif' font-size="21" font-weight="normal" text-anchor="middle" fill="#000" >2</text>
<text x="111.17" y="982.1999999999999" font-family='"Liberation Serif", serif' font-size="21" font-weight="normal" text-anchor="middle" fill="#000" >.</text>
<text x="102.9" y="982.1999999999999" font-family='"Liberation Serif", serif' font-size="21" font-weight="normal" text-anchor="middle" fill="#000" >0</text>
<line x1="139.5" y1="1001.9000000000001" x2="144.5" y2="1001.9000000000001" stroke="#000" stroke-width="2" />
<line x1="139.5" y1="1029.9" x2="149.0" y2="1029.9" stroke="#000" stroke-width="2" />
<text x="124.1" y="1038.2" font-family='"Liberation Serif", serif' font-size="21" font-weight="normal" text-anchor="middle" fill="#000" >0</text>
<text x="111.17" y="1038.2" font-family='"Liberation Serif", serif' font-size="21" font-weight="normal" text-anchor="middle" fill="#000" >.</text>
<text x="102.9" y="1038.2" font-family='"Liberation Serif", serif' font-size="21" font-weight="normal" text-anchor="middle" fill="#000" >0</text>
<line x1="139.5" y1="1057.9" x2="144.5" y2="1057.9" stroke="#000" stroke-width="2" />
<line x1="139.5" y1="1085.9" x2="149.0" y2="1085.9" stroke="#000" stroke-width="2" />
<text x="124.1" y="1094.2" font-family='"Liberation Serif", serif' font-size="21" font-weight="normal" text-anchor="middle" fill="#000" >2</text>
<text x="111.17" y="1094.2" font-family='"Liberation Serif", serif' font-size="21" font-weight="normal" text-anchor="middle" fill="#000" >.</text>
<text x="102.9" y="1094.2" font-family='"Liberation Serif", serif' font-size="21" font-weight="normal" text-anchor="middle" fill="#000" >0</text>
<text x="92.3" y="1094.2" font-family='"Liberation Serif", serif' font-size="21" font-weight="normal" text-anchor="middle" fill="#000" >&#8722;</text>
<line x1="138.5" y1="1085.5" x2="719.0999999999999" y2="1085.5" stroke="#000" stroke-width="2" />
<polygon points="731.3,1085.5 718.0999999999999,1078.7 718.0999999999999,1092.3" fill="#000"/>
<line x1="198.5" y1="1075.5" x2="198.5" y2="1085.5" stroke="#000" stroke-width="2" />
<text x="198.5" y="1113" font-family='"Liberation Serif", serif' font-size="21" font-weight="normal" text-anchor="middle" fill="#000" >0</text>
<line x1="257.6" y1="1080.5" x2="257.6" y2="1085.5" stroke="#000" stroke-width="2" />
<line x1="316.7" y1="1075.5" x2="316.7" y2="1085.5" stroke="#000" stroke-width="2" />
<text x="316.7" y="1113" font-family='"Liberation Serif", serif' font-size="21" font-weight="normal" text-anchor="middle" fill="#000" >2</text>
<line x1="375.8" y1="1080.5" x2="375.8" y2="1085.5" stroke="#000" stroke-width="2" />
<line x1="434.9" y1="1075.5" x2="434.9" y2="1085.5" stroke="#000" stroke-width="2" />
<text x="434.9" y="1113" font-family='"Liberation Serif", serif' font-size="21" font-weight="normal" text-anchor="middle" fill="#000" >4</text>
<line x1="494.0" y1="1080.5" x2="494.0" y2="1085.5" stroke="#000" stroke-width="2" />
<line x1="553.1" y1="1075.5" x2="553.1" y2="1085.5" stroke="#000" stroke-width="2" />
<text x="553.1" y="1113" font-family='"Liberation Serif", serif' font-size="21" font-weight="normal" text-anchor="middle" fill="#000" >6</text>
<line x1="612.2" y1="1080.5" x2="612.2" y2="1085.5" stroke="#000" stroke-width="2" />
<line x1="671.3" y1="1075.5" x2="671.3" y2="1085.5" stroke="#000" stroke-width="2" />
<text x="671.3" y="1113" font-family='"Liberation Serif", serif' font-size="21" font-weight="normal" text-anchor="middle" fill="#000" >8</text>
<text x="434" y="1145" font-family='"Liberation Serif", serif' font-size="27" font-weight="normal" text-anchor="middle" fill="#000" >t</text>
<text x="0" y="0" font-family='"Liberation Serif", serif' font-size="28.8" text-anchor="middle" transform="translate(60.4,835.4) rotate(-90)">Step</text>
<rect x="186" y="638.5" width="73.5" height="152.5" fill="none" stroke="#555" stroke-width="1.25"/>
<line x1="259.5" y1="791" x2="265.5" y2="813" stroke="#000" stroke-width="1.3" />
<polygon points="268,822 261.5,813.5 268.5,811.5" fill="#000"/>
<polyline points="198.5,1030.0 198.8,907.4 199.1,808.3 199.7,671.6 200.3,770.7 200.8,799.9 201.4,717.3 202.0,736.1 202.6,786.6 203.2,751.2 203.8,731.7 204.4,766.2 205.0,766.2 205.6,742.1 206.8,766.2 207.4,752.7 208.0,750.5 208.6,761.1 209.1,758.7 209.8,753.6 210.3,757.2 211.0,760.8 211.5,756.6 212.0,756.6 212.7,760.2 213.7,757.8 214.5,760.2 215.7,758.7 216.8,759.6 213.0,755.0 224.7,758.4 240.0,755.0 251.0,750.5 275.0,750.0 671.0,750.0" fill="none" stroke="#111" stroke-width="1.5" stroke-linecap="butt" stroke-linejoin="round" />
<polyline points="198.5,1030.0 199.3,907.4 199.7,832.3 200.0,746.4 200.3,714.1 200.5,712.0 201.0,731.4 201.5,770.1 202.0,822.9 202.4,796.0 202.8,766.9 203.3,740.0 204.2,758.3 204.7,780.9 205.5,768.0 206.2,750.2 206.9,748.2 207.4,751.2 208.4,767.7 209.7,751.2 211.1,760.2 212.9,751.2 214.3,756.6 215.8,752.7 216.8,751.8 671.0,750.0" fill="none" stroke="#22e0f0" stroke-width="1.4" stroke-dasharray="3,2" stroke-linecap="butt" stroke-linejoin="round" />
<polyline points="198.5,1030.0 198.9,906.9 199.3,778.8 199.6,681.8 199.9,757.2 200.2,832.6 200.5,714.1 200.9,692.6 201.2,778.8 201.6,821.8 202.0,724.9 202.5,714.1 202.9,784.1 203.3,800.3 203.8,735.7 204.4,724.9 204.9,778.8 205.4,794.9 206.0,746.4 206.6,735.7 207.2,773.4 207.9,773.4 208.6,748.6 209.4,752.9 210.2,768.0 211.3,755.1 212.9,757.2 215.0,752.9 216.8,754.0 671.0,750.0" fill="none" stroke="#2b6fdc" stroke-width="1.3" stroke-dasharray="1.5,2" stroke-linecap="butt" stroke-linejoin="round" />
<polyline points="199.0,900.0 199.1,721.9 200.2,786.7 200.3,726.9 199.7,784.3 200.1,730.6 200.5,777.5 201.6,735.7 201.3,774.6 202.7,738.9 203.0,772.4 204.2,735.6 204.3,769.0 203.2,737.8 203.9,769.7 204.1,742.2 205.3,764.9 205.5,740.4 204.9,762.1 206.5,743.8 206.2,762.8 206.8,744.1 207.9,762.1 207.2,746.6 208.1,762.0 208.9,745.7 209.7,756.4 209.0,749.2 208.8,757.7 209.0,749.2 210.8,757.5 211.4,747.6 211.4,756.9 211.5,748.9 212.4,758.5 212.1,750.5 211.6,756.5" fill="none" stroke="#2b6fdc" stroke-width="1.2" stroke-dasharray="1.2,3" stroke-linecap="butt" stroke-linejoin="round" />
<polyline points="198.5,1030.0 199.7,907.4 200.1,832.3 200.5,739.1 201.0,688.1 201.4,646.0 202.0,652.0 202.5,688.1 203.1,733.2 203.5,766.2 204.4,782.0 205.5,757.2 206.2,755.1 206.9,757.2 207.5,772.2 208.9,781.2 209.9,775.2 210.8,767.7 212.4,767.7 214.0,761.7 214.9,755.7 216.8,753.6 671.0,750.0" fill="none" stroke="#3aa46a" stroke-width="1.5" stroke-dasharray="4,2" stroke-linecap="butt" stroke-linejoin="round" />
<polyline points="198.5,1030.0 199.8,907.4 200.3,838.3 200.7,791.8 201.1,751.2 201.7,742.1 202.5,772.2 203.2,785.8 204.1,784.2 205.0,772.3 205.7,757.2 207.8,761.7 210.2,755.7 212.6,754.2 214.9,752.7 216.8,752.0 210.0,752.0 222.0,750.0 671.0,750.0" fill="none" stroke="#ff0000" stroke-width="1.5" stroke-dasharray="5,2,1.5,2" stroke-linecap="butt" stroke-linejoin="round" />
<polyline points="198.3,1030.0 198.3,760.0" fill="none" stroke="#ff0000" stroke-width="1.6" stroke-dasharray="6,3" stroke-linecap="butt" stroke-linejoin="miter" />
<polyline points="199.5,1030.0 199.5,700.0" fill="none" stroke="#22e0f0" stroke-width="1.3" stroke-dasharray="4,2" stroke-linecap="butt" stroke-linejoin="miter" />
<polyline points="200.3,1030.0 200.3,660.0" fill="none" stroke="#3aa46a" stroke-width="1.2" stroke-dasharray="4,3" stroke-linecap="butt" stroke-linejoin="miter" />
<circle cx="198.8" cy="1030" r="3.5" fill="#ff0000"/>
<polygon points="224.7,745.5 220.42499999999998,753.15 228.975,753.15" fill="#00ee00"/>
<polygon points="277.9,745.5 273.625,753.15 282.17499999999995,753.15" fill="#00ee00"/>
<polygon points="331.1,745.5 326.82500000000005,753.15 335.375,753.15" fill="#00ee00"/>
<polygon points="384.3,745.5 380.02500000000003,753.15 388.575,753.15" fill="#00ee00"/>
<polygon points="437.5,745.5 433.225,753.15 441.775,753.15" fill="#00ee00"/>
<polygon points="490.7,745.5 486.425,753.15 494.97499999999997,753.15" fill="#00ee00"/>
<polygon points="543.9,745.5 539.625,753.15 548.175,753.15" fill="#00ee00"/>
<polygon points="597.1,745.5 592.825,753.15 601.375,753.15" fill="#00ee00"/>
<polygon points="650.3,745.5 646.025,753.15 654.5749999999999,753.15" fill="#00ee00"/>
<polygon points="224.7,755.1 220.32999999999998,747.28 229.07,747.28" fill="#0000ee"/>
<polygon points="277.9,755.1 273.53,747.28 282.27,747.28" fill="#0000ee"/>
<polygon points="331.1,755.1 326.73,747.28 335.47,747.28" fill="#0000ee"/>
<polygon points="384.3,755.1 379.93,747.28 388.67,747.28" fill="#0000ee"/>
<polygon points="437.5,755.1 433.13,747.28 441.87,747.28" fill="#0000ee"/>
<polygon points="490.7,755.1 486.33,747.28 495.07,747.28" fill="#0000ee"/>
<polygon points="543.9,755.1 539.53,747.28 548.27,747.28" fill="#0000ee"/>
<polygon points="597.1,755.1 592.73,747.28 601.47,747.28" fill="#0000ee"/>
<polygon points="650.3,755.1 645.93,747.28 654.67,747.28" fill="#0000ee"/>
<rect x="221.1" y="754.8" width="7.2" height="7.2" fill="#111"/>
<polygon points="215.8,748.1999999999999 220.4,752.8 215.8,757.4 211.20000000000002,752.8" fill="#ff0000"/>
<polygon points="233.5,745.9 238.1,750.5 233.5,755.1 228.9,750.5" fill="#ff0000"/>
<polygon points="251.2,745.5 255.79999999999998,750.1 251.2,754.7 246.6,750.1" fill="#ff0000"/>
<polygon points="269.0,745.4 273.6,750.0 269.0,754.6 264.4,750.0" fill="#ff0000"/>
<polygon points="286.7,745.4 291.3,750.0 286.7,754.6 282.09999999999997,750.0" fill="#ff0000"/>
<polygon points="304.4,745.4 309.0,750.0 304.4,754.6 299.79999999999995,750.0" fill="#ff0000"/>
<polygon points="322.1,745.4 326.70000000000005,750.0 322.1,754.6 317.5,750.0" fill="#ff0000"/>
<polygon points="339.8,745.4 344.40000000000003,750.0 339.8,754.6 335.2,750.0" fill="#ff0000"/>
<polygon points="357.6,745.4 362.20000000000005,750.0 357.6,754.6 353.0,750.0" fill="#ff0000"/>
<polygon points="375.3,745.4 379.90000000000003,750.0 375.3,754.6 370.7,750.0" fill="#ff0000"/>
<polygon points="393.0,745.4 397.6,750.0 393.0,754.6 388.4,750.0" fill="#ff0000"/>
<polygon points="410.7,745.4 415.3,750.0 410.7,754.6 406.09999999999997,750.0" fill="#ff0000"/>
<polygon points="428.4,745.4 433.0,750.0 428.4,754.6 423.79999999999995,750.0" fill="#ff0000"/>
<polygon points="446.2,745.4 450.8,750.0 446.2,754.6 441.59999999999997,750.0" fill="#ff0000"/>
<polygon points="463.9,745.4 468.5,750.0 463.9,754.6 459.29999999999995,750.0" fill="#ff0000"/>
<polygon points="481.6,745.4 486.20000000000005,750.0 481.6,754.6 477.0,750.0" fill="#ff0000"/>
<polygon points="499.3,745.4 503.90000000000003,750.0 499.3,754.6 494.7,750.0" fill="#ff0000"/>
<polygon points="517.0,745.4 521.6,750.0 517.0,754.6 512.4,750.0" fill="#ff0000"/>
<polygon points="534.8,745.4 539.4,750.0 534.8,754.6 530.1999999999999,750.0" fill="#ff0000"/>
<polygon points="552.5,745.4 557.1,750.0 552.5,754.6 547.9,750.0" fill="#ff0000"/>
<polygon points="570.2,745.4 574.8000000000001,750.0 570.2,754.6 565.6,750.0" fill="#ff0000"/>
<polygon points="587.9,745.4 592.5,750.0 587.9,754.6 583.3,750.0" fill="#ff0000"/>
<polygon points="605.6,745.4 610.2,750.0 605.6,754.6 601.0,750.0" fill="#ff0000"/>
<polygon points="623.4,745.4 628.0,750.0 623.4,754.6 618.8,750.0" fill="#ff0000"/>
<polygon points="641.1,745.4 645.7,750.0 641.1,754.6 636.5,750.0" fill="#ff0000"/>
<polygon points="658.8,745.4 663.4,750.0 658.8,754.6 654.1999999999999,750.0" fill="#ff0000"/>
<polyline points="445.7,620.8 491.4,620.8" fill="none" stroke="#111" stroke-width="1.5" stroke-linecap="butt" stroke-linejoin="miter" />
<rect x="465.5" y="617.5999999999999" width="6.4" height="6.4" fill="#111"/>
<text x="497" y="627.8" font-family='"Liberation Serif", serif' font-size="20.3" font-weight="normal" text-anchor="start" fill="#000" >GA-FOPID-Fractional order</text>
<polyline points="445.7,645.8 491.4,645.8" fill="none" stroke="#22e0f0" stroke-width="1.4" stroke-dasharray="7,9" stroke-linecap="butt" stroke-linejoin="miter" />
<circle cx="468.7" cy="645.8" r="4" fill="#22e0f0"/>
<text x="497" y="652.8" font-family='"Liberation Serif", serif' font-size="20.3" font-weight="normal" text-anchor="start" fill="#000" >PSO-FOPID-Fractional order</text>
<polyline points="445.7,671.0 491.4,671.0" fill="none" stroke="#2b6fdc" stroke-width="1.3" stroke-dasharray="1.5,5" stroke-linecap="butt" stroke-linejoin="miter" />
<polygon points="468.7,666.5 464.425,674.15 472.97499999999997,674.15" fill="#00ee00"/>
<text x="497" y="678" font-family='"Liberation Serif", serif' font-size="20.3" font-weight="normal" text-anchor="start" fill="#000" >GPS-FOPID-Fractional order</text>
<polyline points="445.7,696.0 491.4,696.0" fill="none" stroke="#3aa46a" stroke-width="1.3" stroke-dasharray="6,4,2,4" stroke-linecap="butt" stroke-linejoin="miter" />
<polygon points="468.7,700.5 464.425,692.85 472.97499999999997,692.85" fill="#0000ee"/>
<text x="497" y="703" font-family='"Liberation Serif", serif' font-size="20.3" font-weight="normal" text-anchor="start" fill="#000" >optimal-FOPID-Fractional order</text>
<polyline points="445.7,721.3 491.4,721.3" fill="none" stroke="#ff0000" stroke-width="1.3" stroke-dasharray="5,3,1.5,4,1.5,4" stroke-linecap="butt" stroke-linejoin="miter" />
<polygon points="468.7,716.5 473.5,721.3 468.7,726.0999999999999 463.9,721.3" fill="#ff0000"/>
<text x="497" y="728.3" font-family='"Liberation Serif", serif' font-size="20.3" font-weight="normal" text-anchor="start" fill="#000" >WOA-FOPID-Fractional order</text>
<line x1="293" y1="773.4" x2="293" y2="1019.5" stroke="#444" stroke-width="1.5" />
<line x1="293" y1="1019.5" x2="674.3" y2="1019.5" stroke="#444" stroke-width="1.5" />
<line x1="287" y1="873.3" x2="293" y2="873.3" stroke="#444" stroke-width="1.3" />
<text x="280.15" y="880.3" font-family='"Liberation Serif", serif' font-size="18.5" font-weight="normal" text-anchor="middle" fill="#000" >0</text>
<text x="269.54" y="880.3" font-family='"Liberation Serif", serif' font-size="18.5" font-weight="normal" text-anchor="middle" fill="#000" >.</text>
<text x="262.75" y="880.3" font-family='"Liberation Serif", serif' font-size="18.5" font-weight="normal" text-anchor="middle" fill="#000" >1</text>
<line x1="287" y1="1003.3" x2="293" y2="1003.3" stroke="#444" stroke-width="1.3" />
<text x="280.15" y="1010.3" font-family='"Liberation Serif", serif' font-size="18.5" font-weight="normal" text-anchor="middle" fill="#000" >5</text>
<text x="269.54" y="1010.3" font-family='"Liberation Serif", serif' font-size="18.5" font-weight="normal" text-anchor="middle" fill="#000" >.</text>
<text x="262.75" y="1010.3" font-family='"Liberation Serif", serif' font-size="18.5" font-weight="normal" text-anchor="middle" fill="#000" >0</text>
<line x1="289.5" y1="808" x2="293" y2="808" stroke="#444" stroke-width="1.3" />
<line x1="289.5" y1="938" x2="293" y2="938" stroke="#444" stroke-width="1.3" />
<line x1="329.8" y1="1019.5" x2="329.8" y2="1025.5" stroke="#444" stroke-width="1.3" />
<text x="338.7" y="1043.1" font-family='"Liberation Serif", serif' font-size="18.5" font-weight="normal" text-anchor="middle" fill="#000" >0</text>
<text x="327.84" y="1043.1" font-family='"Liberation Serif", serif' font-size="18.5" font-weight="normal" text-anchor="middle" fill="#000" >.</text>
<text x="320.9" y="1043.1" font-family='"Liberation Serif", serif' font-size="18.5" font-weight="normal" text-anchor="middle" fill="#000" >0</text>
<line x1="552" y1="1019.5" x2="552" y2="1025.5" stroke="#444" stroke-width="1.3" />
<text x="560.9" y="1043.1" font-family='"Liberation Serif", serif' font-size="18.5" font-weight="normal" text-anchor="middle" fill="#000" >2</text>
<text x="550.04" y="1043.1" font-family='"Liberation Serif", serif' font-size="18.5" font-weight="normal" text-anchor="middle" fill="#000" >.</text>
<text x="543.1" y="1043.1" font-family='"Liberation Serif", serif' font-size="18.5" font-weight="normal" text-anchor="middle" fill="#000" >0</text>
<line x1="441" y1="1019.5" x2="441" y2="1023.0" stroke="#444" stroke-width="1.3" />
<line x1="663" y1="1019.5" x2="663" y2="1023.0" stroke="#444" stroke-width="1.3" />
<text x="467.3" y="1044.5" font-family='"Liberation Serif", serif' font-size="21.5" font-weight="normal" text-anchor="middle" fill="#000" >t</text>
<path d="M341.8,961.6h4 M338.3,955.3h4 M345.7,896.5h4 M344.5,885.4h4 M351.8,828.6h4 M351.8,833.4h4 M356.3,806.0h4 M357.7,912.7h4 M364.9,881.8h4 M362.2,859.5h4 M370.4,918.4h4 M370.5,901.4h4 M375.5,939.7h4 M375.5,912.9h4 M382.6,888.5h4 M380.3,858.0h4 M388.9,877.1h4 M387.8,890.0h4 M392.7,894.8h4 M393.3,846.7h4 M398.8,910.6h4 M398.4,842.6h4 M405.1,838.1h4 M407.3,886.6h4 M411.5,865.6h4 M411.2,862.0h4 M418.2,902.2h4 M416.4,860.7h4 M424.8,901.3h4 M423.0,904.6h4 M431.7,883.2h4 M431.8,886.5h4 M437.9,858.0h4 M435.7,850.6h4 M443.2,850.3h4 M443.9,891.7h4 M449.8,897.9h4 M450.0,882.3h4 M453.4,893.8h4 M453.5,906.2h4 M458.3,864.0h4 M458.8,878.2h4 M467.8,901.4h4 M464.4,866.0h4 M470.7,881.3h4 M473.3,882.0h4 M477.7,869.1h4 M477.8,897.7h4 M485.6,873.4h4 M485.6,893.1h4 M489.7,887.4h4 M491.3,887.6h4 M495.0,885.2h4 M495.6,872.3h4 M502.2,889.7h4 M503.3,881.8h4 M508.5,866.7h4 M508.2,874.3h4 M513.0,890.9h4 M512.3,894.7h4 M520.2,881.9h4 M520.2,871.8h4 M525.8,879.1h4 M524.0,886.5h4 M533.1,876.5h4 M533.5,869.9h4 M538.7,872.0h4 M537.8,871.1h4 M542.3,878.0h4 M543.9,885.2h4 M550.2,884.7h4 M550.1,881.4h4 M557.6,875.1h4 M557.5,870.0h4 M562.0,888.4h4 M562.7,886.4h4 M567.2,882.4h4 M567.4,876.0h4 M575.8,875.7h4 M573.6,876.6h4 M581.3,878.3h4 M580.2,879.5h4 M585.1,875.0h4 M584.9,871.7h4 M593.4,875.3h4 M590.4,880.0h4 M596.5,879.3h4 M597.8,881.3h4 M603.0,886.7h4 M603.0,886.5h4 M610.5,888.8h4 M611.2,871.7h4 M615.4,876.0h4 M617.3,873.7h4 M623.0,872.9h4 M622.7,878.2h4 M626.3,876.5h4 M628.6,887.0h4 M635.9,874.5h4 M632.7,886.8h4 M640.4,872.2h4 M640.9,874.1h4 M646.8,879.5h4 M647.1,881.1h4 M652.4,885.0h4 M651.3,881.4h4 M656.4,874.4h4 M656.8,885.5h4 M663.3,878.9h4 M664.1,881.8h4 M669.7,885.4h4 M670.6,877.9h4" stroke="#5b8fe0" stroke-width="1.3" fill="none" opacity="0.5"/>
<polyline points="350.0,1010.0 358.0,940.0 366.0,890.0 375.0,860.0 390.0,858.0 405.0,880.0 420.0,898.0 440.0,892.0 470.0,880.0 674.0,876.0" fill="none" stroke="#ff7070" stroke-width="0.9" stroke-dasharray="1.5,7" stroke-linecap="butt" stroke-linejoin="miter" />
<polyline points="353.0,1019.5 360.0,949.7 368.3,863.2 376.7,815.8 385.1,776.7 396.3,782.3 404.6,815.8 415.8,857.7 424.2,888.3 440.0,903.0 462.0,880.0 475.0,878.0 487.9,880.0 499.1,893.9 524.2,902.3 543.7,896.7 560.4,889.7 591.1,889.7 621.8,884.2 638.6,878.6 674.0,876.6" fill="none" stroke="#3aa46a" stroke-width="4" stroke-dasharray="13,12" stroke-linecap="butt" stroke-linejoin="round" />
<polyline points="344.6,1019.5 351.6,949.7 358.0,870.0 363.0,840.0 368.0,838.0 376.0,856.0 386.0,892.0 395.5,941.0 403.0,916.0 410.0,889.0 420.0,864.0 437.0,881.0 446.5,902.0 462.0,890.0 474.0,873.5 487.9,871.6 496.3,874.4 515.8,889.7 540.9,874.4 566.0,882.8 599.5,874.4 627.4,879.4 655.3,875.8 674.0,875.0" fill="none" stroke="#22e6f0" stroke-width="4" stroke-dasharray="11,9" stroke-linecap="butt" stroke-linejoin="round" />
<polyline points="354.4,1019.5 362.8,955.3 371.1,912.1 379.5,874.4 390.7,866.0 404.6,893.9 418.6,906.5 435.3,905.1 452.1,894.0 465.6,880.0 504.6,884.2 549.3,878.6 593.9,877.2 638.6,875.8 674.0,875.2" fill="none" stroke="#ff5050" stroke-width="1.0" stroke-dasharray="1.5,5" stroke-linecap="butt" stroke-linejoin="round" />
<polyline points="354.4,1019.5 362.8,955.3 371.1,912.1 379.5,874.4 390.7,866.0 404.6,893.9 418.6,906.5 435.3,905.1 452.1,894.0 465.6,880.0 504.6,884.2 549.3,878.6 593.9,877.2 638.6,875.8 674.0,875.2" fill="none" stroke="#ff0000" stroke-width="4.2" stroke-dasharray="10,22" stroke-linecap="butt" stroke-linejoin="round" />
<polyline points="334.9,1019.5 340.4,927.4 352.2,800.5 362.8,892.5 373.9,919.6 384.5,842.9 396.3,860.4 407.4,907.3 418.6,874.4 429.7,856.3 440.9,888.3 452.1,888.3 463.2,866.0 485.1,888.3 496.3,875.8 507.4,873.8 518.6,883.6 529.8,881.4 542.3,876.6 552.1,880.0 564.6,883.3 574.4,879.4 584.2,879.4 596.7,882.8 616.2,880.5 630.2,882.8 652.5,881.4 674.3,882.2" fill="none" stroke="#4d4d4d" stroke-width="3.6" stroke-linecap="butt" stroke-linejoin="miter" />
<text x="0" y="1200.5" font-family='"Liberation Sans", sans-serif' font-size="42" font-weight="bold" text-anchor="start" fill="#000" >C</text>
<line x1="84.2" y1="1213" x2="84.2" y2="1747.2" stroke="#888" stroke-width="1.6" />
<polygon points="84.2,1201 77.5,1214 90.9,1214" fill="#000"/>
<line x1="84.2" y1="1229.7" x2="94.2" y2="1229.7" stroke="#888" stroke-width="1.6" />
<text x="67.25" y="1237.7" font-family='"Liberation Serif", serif' font-size="22.8" font-weight="normal" text-anchor="middle" fill="#000" >6</text>
<text x="52.98" y="1237.7" font-family='"Liberation Serif", serif' font-size="22.8" font-weight="normal" text-anchor="middle" fill="#000" >.</text>
<text x="43.85" y="1237.7" font-family='"Liberation Serif", serif' font-size="22.8" font-weight="normal" text-anchor="middle" fill="#000" >1</text>
<line x1="84.2" y1="1258.45" x2="89.2" y2="1258.45" stroke="#888" stroke-width="1.6" />
<line x1="84.2" y1="1287.2" x2="94.2" y2="1287.2" stroke="#888" stroke-width="1.6" />
<text x="67.25" y="1295.2" font-family='"Liberation Serif", serif' font-size="22.8" font-weight="normal" text-anchor="middle" fill="#000" >4</text>
<text x="52.98" y="1295.2" font-family='"Liberation Serif", serif' font-size="22.8" font-weight="normal" text-anchor="middle" fill="#000" >.</text>
<text x="43.85" y="1295.2" font-family='"Liberation Serif", serif' font-size="22.8" font-weight="normal" text-anchor="middle" fill="#000" >1</text>
<line x1="84.2" y1="1315.95" x2="89.2" y2="1315.95" stroke="#888" stroke-width="1.6" />
<line x1="84.2" y1="1344.7" x2="94.2" y2="1344.7" stroke="#888" stroke-width="1.6" />
<text x="67.25" y="1352.7" font-family='"Liberation Serif", serif' font-size="22.8" font-weight="normal" text-anchor="middle" fill="#000" >2</text>
<text x="52.98" y="1352.7" font-family='"Liberation Serif", serif' font-size="22.8" font-weight="normal" text-anchor="middle" fill="#000" >.</text>
<text x="43.85" y="1352.7" font-family='"Liberation Serif", serif' font-size="22.8" font-weight="normal" text-anchor="middle" fill="#000" >1</text>
<line x1="84.2" y1="1373.45" x2="89.2" y2="1373.45" stroke="#888" stroke-width="1.6" />
<line x1="84.2" y1="1402.2" x2="94.2" y2="1402.2" stroke="#888" stroke-width="1.6" />
<text x="67.25" y="1410.2" font-family='"Liberation Serif", serif' font-size="22.8" font-weight="normal" text-anchor="middle" fill="#000" >0</text>
<text x="52.98" y="1410.2" font-family='"Liberation Serif", serif' font-size="22.8" font-weight="normal" text-anchor="middle" fill="#000" >.</text>
<text x="43.85" y="1410.2" font-family='"Liberation Serif", serif' font-size="22.8" font-weight="normal" text-anchor="middle" fill="#000" >1</text>
<line x1="84.2" y1="1430.95" x2="89.2" y2="1430.95" stroke="#888" stroke-width="1.6" />
<line x1="84.2" y1="1459.7" x2="94.2" y2="1459.7" stroke="#888" stroke-width="1.6" />
<text x="67.25" y="1467.7" font-family='"Liberation Serif", serif' font-size="22.8" font-weight="normal" text-anchor="middle" fill="#000" >8</text>
<text x="52.98" y="1467.7" font-family='"Liberation Serif", serif' font-size="22.8" font-weight="normal" text-anchor="middle" fill="#000" >.</text>
<text x="43.85" y="1467.7" font-family='"Liberation Serif", serif' font-size="22.8" font-weight="normal" text-anchor="middle" fill="#000" >0</text>
<line x1="84.2" y1="1488.45" x2="89.2" y2="1488.45" stroke="#888" stroke-width="1.6" />
<line x1="84.2" y1="1517.2" x2="94.2" y2="1517.2" stroke="#888" stroke-width="1.6" />
<text x="67.25" y="1525.2" font-family='"Liberation Serif", serif' font-size="22.8" font-weight="normal" text-anchor="middle" fill="#000" >6</text>
<text x="52.98" y="1525.2" font-family='"Liberation Serif", serif' font-size="22.8" font-weight="normal" text-anchor="middle" fill="#000" >.</text>
<text x="43.85" y="1525.2" font-family='"Liberation Serif", serif' font-size="22.8" font-weight="normal" text-anchor="middle" fill="#000" >0</text>
<line x1="84.2" y1="1545.95" x2="89.2" y2="1545.95" stroke="#888" stroke-width="1.6" />
<line x1="84.2" y1="1574.7" x2="94.2" y2="1574.7" stroke="#888" stroke-width="1.6" />
<text x="67.25" y="1582.7" font-family='"Liberation Serif", serif' font-size="22.8" font-weight="normal" text-anchor="middle" fill="#000" >4</text>
<text x="52.98" y="1582.7" font-family='"Liberation Serif", serif' font-size="22.8" font-weight="normal" text-anchor="middle" fill="#000" >.</text>
<text x="43.85" y="1582.7" font-family='"Liberation Serif", serif' font-size="22.8" font-weight="normal" text-anchor="middle" fill="#000" >0</text>
<line x1="84.2" y1="1603.45" x2="89.2" y2="1603.45" stroke="#888" stroke-width="1.6" />
<line x1="84.2" y1="1632.2" x2="94.2" y2="1632.2" stroke="#888" stroke-width="1.6" />
<text x="67.25" y="1640.2" font-family='"Liberation Serif", serif' font-size="22.8" font-weight="normal" text-anchor="middle" fill="#000" >2</text>
<text x="52.98" y="1640.2" font-family='"Liberation Serif", serif' font-size="22.8" font-weight="normal" text-anchor="middle" fill="#000" >.</text>
<text x="43.85" y="1640.2" font-family='"Liberation Serif", serif' font-size="22.8" font-weight="normal" text-anchor="middle" fill="#000" >0</text>
<line x1="84.2" y1="1660.95" x2="89.2" y2="1660.95" stroke="#888" stroke-width="1.6" />
<line x1="84.2" y1="1689.7" x2="94.2" y2="1689.7" stroke="#888" stroke-width="1.6" />
<text x="67.25" y="1697.7" font-family='"Liberation Serif", serif' font-size="22.8" font-weight="normal" text-anchor="middle" fill="#000" >0</text>
<text x="52.98" y="1697.7" font-family='"Liberation Serif", serif' font-size="22.8" font-weight="normal" text-anchor="middle" fill="#000" >.</text>
<text x="43.85" y="1697.7" font-family='"Liberation Serif", serif' font-size="22.8" font-weight="normal" text-anchor="middle" fill="#000" >0</text>
<line x1="84.2" y1="1718.45" x2="89.2" y2="1718.45" stroke="#888" stroke-width="1.6" />
<line x1="84.2" y1="1747.2" x2="94.2" y2="1747.2" stroke="#888" stroke-width="1.6" />
<text x="67.25" y="1755.2" font-family='"Liberation Serif", serif' font-size="22.8" font-weight="normal" text-anchor="middle" fill="#000" >2</text>
<text x="52.98" y="1755.2" font-family='"Liberation Serif", serif' font-size="22.8" font-weight="normal" text-anchor="middle" fill="#000" >.</text>
<text x="43.85" y="1755.2" font-family='"Liberation Serif", serif' font-size="22.8" font-weight="normal" text-anchor="middle" fill="#000" >0</text>
<text x="32.15" y="1755.2" font-family='"Liberation Serif", serif' font-size="22.8" font-weight="normal" text-anchor="middle" fill="#000" >&#8722;</text>
<line x1="84.2" y1="1738.5" x2="406" y2="1738.5" stroke="#888" stroke-width="1.6" />
<polygon points="418,1738.5 405,1731.7 405,1745.3" fill="#000"/>
<line x1="117.5" y1="1728.0" x2="117.5" y2="1738.5" stroke="#888" stroke-width="1.6" />
<text x="117.5" y="1768.5" font-family='"Liberation Serif", serif' font-size="22.5" font-weight="normal" text-anchor="middle" fill="#000" >0</text>
<line x1="151.1" y1="1733.0" x2="151.1" y2="1738.5" stroke="#888" stroke-width="1.6" />
<line x1="184.7" y1="1728.0" x2="184.7" y2="1738.5" stroke="#888" stroke-width="1.6" />
<text x="184.7" y="1768.5" font-family='"Liberation Serif", serif' font-size="22.5" font-weight="normal" text-anchor="middle" fill="#000" >2</text>
<line x1="218.3" y1="1733.0" x2="218.3" y2="1738.5" stroke="#888" stroke-width="1.6" />
<line x1="251.9" y1="1728.0" x2="251.9" y2="1738.5" stroke="#888" stroke-width="1.6" />
<text x="251.9" y="1768.5" font-family='"Liberation Serif", serif' font-size="22.5" font-weight="normal" text-anchor="middle" fill="#000" >4</text>
<line x1="285.5" y1="1733.0" x2="285.5" y2="1738.5" stroke="#888" stroke-width="1.6" />
<line x1="319.1" y1="1728.0" x2="319.1" y2="1738.5" stroke="#888" stroke-width="1.6" />
<text x="319.1" y="1768.5" font-family='"Liberation Serif", serif' font-size="22.5" font-weight="normal" text-anchor="middle" fill="#000" >6</text>
<line x1="352.70000000000005" y1="1733.0" x2="352.70000000000005" y2="1738.5" stroke="#888" stroke-width="1.6" />
<line x1="386.3" y1="1728.0" x2="386.3" y2="1738.5" stroke="#888" stroke-width="1.6" />
<text x="386.3" y="1768.5" font-family='"Liberation Serif", serif' font-size="22.5" font-weight="normal" text-anchor="middle" fill="#000" >8</text>
<text x="251" y="1804" font-family='"Liberation Serif", serif' font-size="30" font-weight="normal" text-anchor="middle" fill="#000" >t</text>
<text x="0" y="0" font-family='"Liberation Serif", serif' font-size="32.2" text-anchor="middle" transform="translate(17.5,1473.6) rotate(-90) scale(1,0.9)">Step</text>
<rect x="106.2" y="1245" width="63.4" height="231.5" fill="none" stroke="#555" stroke-width="1.25"/>
<line x1="169.6" y1="1476.5" x2="180" y2="1501" stroke="#000" stroke-width="1.3" />
<polygon points="183.5,1510 176,1502.5 183,1499.5" fill="#000"/>
<polyline points="117.5,1689.7 117.7,1532.1 117.8,1436.0 118.2,1323.2 118.5,1460.9 118.8,1427.8 119.2,1331.6 119.5,1440.4 119.8,1443.0 120.2,1342.4 120.5,1416.8 120.8,1447.2 121.2,1356.2 121.8,1444.4 122.2,1372.8 122.5,1382.5 122.8,1444.4 123.1,1388.0 123.5,1375.6 123.8,1436.2 124.5,1374.1 124.8,1425.2 125.2,1412.6 125.5,1375.6 125.9,1418.2 126.2,1418.2 126.5,1381.1 127.2,1421.0 127.5,1386.6 140.0,1402.0" fill="none" stroke="#000" stroke-width="1.3" stroke-dasharray="2,3" stroke-linecap="butt" stroke-linejoin="round" />
<polyline points="117.5,1689.7 117.7,1532.1 117.8,1436.0 118.2,1323.2 118.5,1460.9 118.8,1427.8 119.2,1331.6 119.5,1440.4 119.8,1443.0 120.2,1342.4 120.5,1416.8 120.8,1447.2 121.2,1356.2 121.8,1444.4 122.2,1372.8 122.5,1382.5 122.8,1444.4 123.1,1388.0 123.5,1375.6 123.8,1436.2 124.5,1374.1 124.8,1425.2 125.2,1412.6 125.5,1375.6 125.9,1418.2 126.2,1418.2 126.5,1381.1 127.2,1421.0 127.5,1386.6 140.0,1402.0" fill="none" stroke="#ee2222" stroke-width="1.2" stroke-dasharray="1,4" stroke-linecap="butt" stroke-linejoin="round" />
<polyline points="117.5,1689.7 117.7,1532.1 117.8,1436.0 118.2,1323.2 118.5,1460.9 118.8,1427.8 119.2,1331.6 119.5,1440.4 119.8,1443.0 120.2,1342.4 120.5,1416.8 120.8,1447.2 121.2,1356.2 121.8,1444.4 122.2,1372.8 122.5,1382.5 122.8,1444.4 123.1,1388.0 123.5,1375.6 123.8,1436.2 124.5,1374.1 124.8,1425.2 125.2,1412.6 125.5,1375.6 125.9,1418.2 126.2,1418.2 126.5,1381.1 127.2,1421.0 127.5,1386.6 140.0,1402.0" fill="none" stroke="#00dd00" stroke-width="1.2" stroke-dasharray="1.5,4" stroke-linecap="butt" stroke-linejoin="round" />
<polyline points="117.2,1689.0 117.2,1400.0" fill="none" stroke="#000" stroke-width="1.2" stroke-dasharray="2,2" stroke-linecap="butt" stroke-linejoin="miter" />
<polyline points="118.2,1689.0 118.2,1420.0" fill="none" stroke="#ee2222" stroke-width="1.0" stroke-dasharray="1.5,3" stroke-linecap="butt" stroke-linejoin="miter" />
<polyline points="117.6,1689.7 118.0,1317.0 117.9,1360.6 118.8,1453.9 118.6,1363.1 118.5,1451.0 119.4,1363.6 119.0,1445.0 119.3,1366.1 120.4,1439.0 121.0,1367.1 120.9,1443.0 120.6,1377.2 121.4,1434.3 121.3,1377.2 121.4,1436.2 122.2,1374.6 122.6,1435.5 122.9,1377.6 123.1,1430.1 124.1,1377.2 124.2,1431.7 123.9,1383.3 124.1,1424.9 125.0,1383.6 125.4,1425.6 125.9,1382.6 125.0,1422.9 126.4,1385.7 126.8,1422.6 126.0,1386.1 127.2,1420.5 126.6,1388.4 128.0,1421.8 127.3,1389.6 127.6,1417.1 128.7,1390.7 128.7,1417.8 128.6,1389.6 128.8,1417.6 129.1,1391.4 129.5,1415.1 130.7,1391.0 130.2,1416.5 130.4,1392.8 131.5,1414.7 130.9,1392.0 131.4,1412.6 132.3,1394.2 132.1,1411.3 132.1,1394.2 132.6,1412.2 133.1,1394.9 134.1,1411.2 133.9,1394.6 133.7,1409.7 134.9,1395.2 134.4,1409.3 135.3,1395.5 135.0,1410.4 136.1,1396.4 135.9,1408.2 135.7,1396.3 136.3,1408.9 136.6,1396.9 137.3,1407.7 137.1,1397.3 137.3,1407.2 138.2,1397.5 138.5,1406.9 139.2,1398.5 138.4,1406.6" fill="none" stroke="#00f0f0" stroke-width="2.6" stroke-linecap="butt" stroke-linejoin="round" />
<polyline points="117.8,1689.7 117.8,1317.0" fill="none" stroke="#00f0f0" stroke-width="1.2" stroke-linecap="butt" stroke-linejoin="miter" />
<polyline points="117.4,1689.0 117.4,1480.0" fill="none" stroke="#000" stroke-width="1.3" stroke-dasharray="2,2" stroke-linecap="butt" stroke-linejoin="miter" />
<polyline points="118.4,1689.0 118.4,1480.0" fill="none" stroke="#ee2222" stroke-width="1.0" stroke-dasharray="1.5,3" stroke-linecap="butt" stroke-linejoin="miter" />
<polyline points="117.5,1689.7 118.5,1532.1 118.7,1477.4 118.9,1419.7 119.3,1292.8 119.5,1262.6 119.8,1248.8 120.2,1279.1 120.5,1331.6 121.0,1414.2 121.3,1469.2 121.8,1489.9 122.4,1452.7 122.8,1430.7 123.2,1408.7 123.6,1400.3 124.1,1408.7 124.7,1425.2 125.4,1427.8 126.1,1416.8 126.8,1403.1 127.6,1397.6 140.0,1401.5" fill="none" stroke="#1010ee" stroke-width="1.3" stroke-dasharray="5,2,1,2" stroke-linecap="butt" stroke-linejoin="round" />
<polyline points="118.8,1689.0 118.8,1250.0" fill="none" stroke="#1010ee" stroke-width="1.2" stroke-dasharray="5,3" stroke-linecap="butt" stroke-linejoin="miter" />
<polyline points="135.0,1401.5 384.0,1402.0" fill="none" stroke="#1010ee" stroke-width="1.5" stroke-linecap="butt" stroke-linejoin="miter" />
<polyline points="140.0,1406.0 170.0,1407.6 290.0,1407.4 384.0,1402.5" fill="none" stroke="#ee2222" stroke-width="1.5" stroke-linecap="butt" stroke-linejoin="miter" />
<polyline points="135.0,1404.0 200.0,1403.0 230.0,1402.0 384.0,1402.0" fill="none" stroke="#00f0f0" stroke-width="1.6" stroke-linecap="butt" stroke-linejoin="miter" />
<rect x="114.2" y="1686.4" width="6.6" height="6.6" fill="#00f0f0"/>
<rect x="140.8" y="1398.3" width="6" height="6" fill="#1010ee"/>
<rect x="154.1" y="1398.3" width="6" height="6" fill="#1010ee"/>
<rect x="167.5" y="1398.3" width="6" height="6" fill="#1010ee"/>
<rect x="180.8" y="1398.3" width="6" height="6" fill="#1010ee"/>
<rect x="194.2" y="1398.3" width="6" height="6" fill="#1010ee"/>
<rect x="207.6" y="1398.3" width="6" height="6" fill="#1010ee"/>
<rect x="153.9" y="1404.5" width="6.2" height="6.2" fill="#ee2222"/>
<rect x="167.3" y="1404.5" width="6.2" height="6.2" fill="#ee2222"/>
<rect x="180.6" y="1404.5" width="6.2" height="6.2" fill="#ee2222"/>
<rect x="194.0" y="1404.5" width="6.2" height="6.2" fill="#ee2222"/>
<rect x="207.3" y="1404.5" width="6.2" height="6.2" fill="#ee2222"/>
<rect x="220.70000000000002" y="1404.5" width="6.2" height="6.2" fill="#ee2222"/>
<rect x="234.1" y="1404.5" width="6.2" height="6.2" fill="#ee2222"/>
<rect x="247.4" y="1404.5" width="6.2" height="6.2" fill="#ee2222"/>
<rect x="260.79999999999995" y="1404.5" width="6.2" height="6.2" fill="#ee2222"/>
<rect x="274.09999999999997" y="1404.5" width="6.2" height="6.2" fill="#ee2222"/>
<rect x="287.5" y="1404.5" width="6.2" height="6.2" fill="#ee2222"/>
<rect x="300.9" y="1403.9" width="6.2" height="6.2" fill="#ee2222"/>
<rect x="314.2" y="1403.3000000000002" width="6.2" height="6.2" fill="#ee2222"/>
<rect x="327.59999999999997" y="1402.7" width="6.2" height="6.2" fill="#ee2222"/>
<rect x="340.9" y="1402.1000000000001" width="6.2" height="6.2" fill="#ee2222"/>
<rect x="354.29999999999995" y="1401.5" width="6.2" height="6.2" fill="#ee2222"/>
<rect x="367.7" y="1400.9" width="6.2" height="6.2" fill="#ee2222"/>
<rect x="140.8" y="1401.7" width="6.4" height="6.4" fill="#00f0f0"/>
<rect x="154.10000000000002" y="1400.8999999999999" width="6.4" height="6.4" fill="#00f0f0"/>
<rect x="167.5" y="1400.3" width="6.4" height="6.4" fill="#00f0f0"/>
<rect x="180.8" y="1399.8999999999999" width="6.4" height="6.4" fill="#00f0f0"/>
<rect x="194.20000000000002" y="1399.6" width="6.4" height="6.4" fill="#00f0f0"/>
<rect x="207.5" y="1399.3999999999999" width="6.4" height="6.4" fill="#00f0f0"/>
<rect x="220.9" y="1399.3" width="6.4" height="6.4" fill="#00f0f0"/>
<rect x="234.20000000000002" y="1399.2" width="6.4" height="6.4" fill="#00f0f0"/>
<rect x="247.60000000000002" y="1399.1" width="6.4" height="6.4" fill="#00f0f0"/>
<rect x="260.90000000000003" y="1399.0" width="6.4" height="6.4" fill="#00f0f0"/>
<rect x="274.3" y="1399.0" width="6.4" height="6.4" fill="#00f0f0"/>
<rect x="287.7" y="1399.0" width="6.4" height="6.4" fill="#00f0f0"/>
<rect x="301.0" y="1399.0" width="6.4" height="6.4" fill="#00f0f0"/>
<rect x="314.40000000000003" y="1398.8999999999999" width="6.4" height="6.4" fill="#00f0f0"/>
<rect x="327.7" y="1398.8999999999999" width="6.4" height="6.4" fill="#00f0f0"/>
<rect x="341.1" y="1398.8999999999999" width="6.4" height="6.4" fill="#00f0f0"/>
<rect x="354.40000000000003" y="1398.8999999999999" width="6.4" height="6.4" fill="#00f0f0"/>
<rect x="367.8" y="1398.8999999999999" width="6.4" height="6.4" fill="#00f0f0"/>
<rect x="381.1" y="1398.8999999999999" width="6.4" height="6.4" fill="#00f0f0"/>
<polyline points="189.4,1239.0 233.8,1239.0" fill="none" stroke="#000" stroke-width="1.5" stroke-linecap="butt" stroke-linejoin="miter" />
<rect x="208.3" y="1236" width="6" height="6" fill="#000"/>
<text x="240" y="1246" font-family='"Liberation Serif", serif' font-size="19.7" font-weight="normal" text-anchor="start" fill="#000" >GA-PID-Integer order</text>
<polyline points="189.4,1264.0 233.8,1264.0" fill="none" stroke="#00ee00" stroke-width="1.4" stroke-dasharray="6,5" stroke-linecap="butt" stroke-linejoin="miter" />
<rect x="208.3" y="1261" width="6" height="6" fill="#00ee00"/>
<text x="240" y="1271" font-family='"Liberation Serif", serif' font-size="19.7" font-weight="normal" text-anchor="start" fill="#000" >GPS-PID-Integer order</text>
<polyline points="189.4,1288.4 233.8,1288.4" fill="none" stroke="#ee2222" stroke-width="1.3" stroke-dasharray="1.5,4" stroke-linecap="butt" stroke-linejoin="miter" />
<rect x="208.3" y="1285.4" width="6" height="6" fill="#ee2222"/>
<text x="240" y="1295.4" font-family='"Liberation Serif", serif' font-size="19.7" font-weight="normal" text-anchor="start" fill="#000" >WOA-PID-Integer order</text>
<polyline points="189.4,1313.4 233.8,1313.4" fill="none" stroke="#1010ee" stroke-width="1.3" stroke-dasharray="6,3,1.5,3" stroke-linecap="butt" stroke-linejoin="miter" />
<rect x="208.3" y="1310.4" width="6" height="6" fill="#1010ee"/>
<text x="240" y="1320.4" font-family='"Liberation Serif", serif' font-size="19.7" font-weight="normal" text-anchor="start" fill="#000" >optimal-PID-Integer order</text>
<polyline points="189.4,1336.9 233.8,1336.9" fill="none" stroke="#00f0f0" stroke-width="1.3" stroke-dasharray="5,3,1.5,3,1.5,3" stroke-linecap="butt" stroke-linejoin="miter" />
<rect x="207.8" y="1333.4" width="7.0" height="7.0" fill="#00f0f0"/>
<text x="240" y="1343.9" font-family='"Liberation Serif", serif' font-size="19.7" font-weight="normal" text-anchor="start" fill="#000" >PSO-PID-Integer order</text>
<line x1="159.9" y1="1513.8" x2="159.9" y2="1666.6" stroke="#777" stroke-width="1.5" />
<line x1="159.9" y1="1666.6" x2="397.7" y2="1666.6" stroke="#777" stroke-width="1.5" />
<line x1="156.3" y1="1522.5" x2="159.9" y2="1522.5" stroke="#777" stroke-width="1.3" />
<text x="150.78" y="1528.0" font-family='"Liberation Serif", serif' font-size="14" font-weight="normal" text-anchor="middle" fill="#000" >5</text>
<text x="141.93" y="1528.0" font-family='"Liberation Serif", serif' font-size="14" font-weight="normal" text-anchor="middle" fill="#000" >.</text>
<text x="136.28" y="1528.0" font-family='"Liberation Serif", serif' font-size="14" font-weight="normal" text-anchor="middle" fill="#000" >1</text>
<line x1="156.3" y1="1598.2" x2="159.9" y2="1598.2" stroke="#777" stroke-width="1.3" />
<text x="150.78" y="1603.7" font-family='"Liberation Serif", serif' font-size="14" font-weight="normal" text-anchor="middle" fill="#000" >0</text>
<text x="141.93" y="1603.7" font-family='"Liberation Serif", serif' font-size="14" font-weight="normal" text-anchor="middle" fill="#000" >.</text>
<text x="136.28" y="1603.7" font-family='"Liberation Serif", serif' font-size="14" font-weight="normal" text-anchor="middle" fill="#000" >1</text>
<line x1="156.4" y1="1559.8" x2="159.9" y2="1559.8" stroke="#777" stroke-width="1.3" />
<line x1="156.4" y1="1636.1" x2="159.9" y2="1636.1" stroke="#777" stroke-width="1.3" />
<line x1="162.3" y1="1666.6" x2="162.3" y2="1670.1999999999998" stroke="#777" stroke-width="1.3" />
<text x="169.2" y="1683.6" font-family='"Liberation Serif", serif' font-size="14" font-weight="normal" text-anchor="middle" fill="#000" >0</text>
<text x="160.78" y="1683.6" font-family='"Liberation Serif", serif' font-size="14" font-weight="normal" text-anchor="middle" fill="#000" >.</text>
<text x="155.4" y="1683.6" font-family='"Liberation Serif", serif' font-size="14" font-weight="normal" text-anchor="middle" fill="#000" >0</text>
<line x1="319" y1="1666.6" x2="319" y2="1670.1999999999998" stroke="#777" stroke-width="1.3" />
<text x="325.9" y="1683.6" font-family='"Liberation Serif", serif' font-size="14" font-weight="normal" text-anchor="middle" fill="#000" >2</text>
<text x="317.48" y="1683.6" font-family='"Liberation Serif", serif' font-size="14" font-weight="normal" text-anchor="middle" fill="#000" >.</text>
<text x="312.1" y="1683.6" font-family='"Liberation Serif", serif' font-size="14" font-weight="normal" text-anchor="middle" fill="#000" >0</text>
<line x1="240.7" y1="1666.6" x2="240.7" y2="1670.1" stroke="#777" stroke-width="1.3" />
<line x1="395.5" y1="1666.6" x2="395.5" y2="1670.1" stroke="#777" stroke-width="1.3" />
<text x="252" y="1695" font-family='"Liberation Serif", serif' font-size="18" font-weight="normal" text-anchor="middle" fill="#000" >t</text>
<polyline points="166.7,1666.6 170.3,1616.0 177.6,1556.6 185.5,1629.1 192.8,1611.7 200.8,1561.0 208.8,1618.3 216.0,1619.7 224.7,1566.7 232.0,1605.9 240.0,1621.9 247.9,1574.0 263.2,1620.4 271.2,1582.7 279.4,1587.8 286.7,1620.4 293.9,1590.7 301.9,1584.2 309.9,1616.1 325.1,1583.4 333.8,1610.3 341.1,1603.7 349.1,1584.2 358.5,1606.6 364.3,1606.6 372.3,1587.1 387.5,1608.1 396.2,1590.0" fill="none" stroke="#ee2222" stroke-width="1.2" stroke-dasharray="1.5,5" stroke-linecap="butt" stroke-linejoin="round" />
<polyline points="166.7,1666.6 170.3,1616.0 177.6,1556.6 185.5,1629.1 192.8,1611.7 200.8,1561.0 208.8,1618.3 216.0,1619.7 224.7,1566.7 232.0,1605.9 240.0,1621.9 247.9,1574.0 263.2,1620.4 271.2,1582.7 279.4,1587.8 286.7,1620.4 293.9,1590.7 301.9,1584.2 309.9,1616.1 325.1,1583.4 333.8,1610.3 341.1,1603.7 349.1,1584.2 358.5,1606.6 364.3,1606.6 372.3,1587.1 387.5,1608.1 396.2,1590.0" fill="none" stroke="#000" stroke-width="2.6" stroke-linecap="butt" stroke-linejoin="miter" />
<polyline points="166.7,1666.6 170.3,1616.0 177.6,1556.6 185.5,1629.1 192.8,1611.7 200.8,1561.0 208.8,1618.3 216.0,1619.7 224.7,1566.7 232.0,1605.9 240.0,1621.9 247.9,1574.0 263.2,1620.4 271.2,1582.7 279.4,1587.8 286.7,1620.4 293.9,1590.7 301.9,1584.2 309.9,1616.1 325.1,1583.4 333.8,1610.3 341.1,1603.7 349.1,1584.2 358.5,1606.6 364.3,1606.6 372.3,1587.1 387.5,1608.1 396.2,1590.0" fill="none" stroke="#00ee00" stroke-width="2.2" stroke-dasharray="7,9" stroke-linecap="butt" stroke-linejoin="miter" />
<polyline points="166.7,1666.6 170.3,1616.0 177.6,1556.6 185.5,1629.1 192.8,1611.7 200.8,1561.0 208.8,1618.3 216.0,1619.7 224.7,1566.7 232.0,1605.9 240.0,1621.9 247.9,1574.0 263.2,1620.4 271.2,1582.7 279.4,1587.8 286.7,1620.4 293.9,1590.7 301.9,1584.2 309.9,1616.1 325.1,1583.4 333.8,1610.3 341.1,1603.7 349.1,1584.2 358.5,1606.6 364.3,1606.6 372.3,1587.1 387.5,1608.1 396.2,1590.0" fill="none" stroke="#00f0f0" stroke-width="2.2" stroke-dasharray="0,16,6,8" stroke-linecap="butt" stroke-linejoin="miter" />
<polyline points="186.3,1666.6 189.2,1637.8 195.0,1607.4 205.1,1540.6 209.5,1524.7 216.7,1517.4 225.4,1533.4 232.7,1561.0 242.9,1604.5 251.6,1633.5 263.2,1644.4 277.7,1624.8 286.0,1613.2 294.7,1601.6 304.8,1597.2 316.4,1601.6 330.9,1610.3 345.5,1611.7 362.9,1605.9 380.3,1598.7 397.7,1595.8" fill="none" stroke="#1414ee" stroke-width="2.7" stroke-dasharray="9,4,2,4" stroke-linecap="butt" stroke-linejoin="round" />
<line x1="504.8" y1="1213" x2="504.8" y2="1746.4" stroke="#888" stroke-width="1.6" />
<polygon points="504.8,1201 498.1,1214 511.5,1214" fill="#000"/>
<line x1="504.8" y1="1229.7" x2="514.8" y2="1229.7" stroke="#888" stroke-width="1.6" />
<text x="487.95" y="1237.7" font-family='"Liberation Serif", serif' font-size="22.8" font-weight="normal" text-anchor="middle" fill="#000" >6</text>
<text x="473.68" y="1237.7" font-family='"Liberation Serif", serif' font-size="22.8" font-weight="normal" text-anchor="middle" fill="#000" >.</text>
<text x="464.55" y="1237.7" font-family='"Liberation Serif", serif' font-size="22.8" font-weight="normal" text-anchor="middle" fill="#000" >1</text>
<line x1="504.8" y1="1258.45" x2="509.8" y2="1258.45" stroke="#888" stroke-width="1.6" />
<line x1="504.8" y1="1287.2" x2="514.8" y2="1287.2" stroke="#888" stroke-width="1.6" />
<text x="487.95" y="1295.2" font-family='"Liberation Serif", serif' font-size="22.8" font-weight="normal" text-anchor="middle" fill="#000" >4</text>
<text x="473.68" y="1295.2" font-family='"Liberation Serif", serif' font-size="22.8" font-weight="normal" text-anchor="middle" fill="#000" >.</text>
<text x="464.55" y="1295.2" font-family='"Liberation Serif", serif' font-size="22.8" font-weight="normal" text-anchor="middle" fill="#000" >1</text>
<line x1="504.8" y1="1315.95" x2="509.8" y2="1315.95" stroke="#888" stroke-width="1.6" />
<line x1="504.8" y1="1344.7" x2="514.8" y2="1344.7" stroke="#888" stroke-width="1.6" />
<text x="487.95" y="1352.7" font-family='"Liberation Serif", serif' font-size="22.8" font-weight="normal" text-anchor="middle" fill="#000" >2</text>
<text x="473.68" y="1352.7" font-family='"Liberation Serif", serif' font-size="22.8" font-weight="normal" text-anchor="middle" fill="#000" >.</text>
<text x="464.55" y="1352.7" font-family='"Liberation Serif", serif' font-size="22.8" font-weight="normal" text-anchor="middle" fill="#000" >1</text>
<line x1="504.8" y1="1373.45" x2="509.8" y2="1373.45" stroke="#888" stroke-width="1.6" />
<line x1="504.8" y1="1402.2" x2="514.8" y2="1402.2" stroke="#888" stroke-width="1.6" />
<text x="487.95" y="1410.2" font-family='"Liberation Serif", serif' font-size="22.8" font-weight="normal" text-anchor="middle" fill="#000" >0</text>
<text x="473.68" y="1410.2" font-family='"Liberation Serif", serif' font-size="22.8" font-weight="normal" text-anchor="middle" fill="#000" >.</text>
<text x="464.55" y="1410.2" font-family='"Liberation Serif", serif' font-size="22.8" font-weight="normal" text-anchor="middle" fill="#000" >1</text>
<line x1="504.8" y1="1430.95" x2="509.8" y2="1430.95" stroke="#888" stroke-width="1.6" />
<line x1="504.8" y1="1459.7" x2="514.8" y2="1459.7" stroke="#888" stroke-width="1.6" />
<text x="487.95" y="1467.7" font-family='"Liberation Serif", serif' font-size="22.8" font-weight="normal" text-anchor="middle" fill="#000" >8</text>
<text x="473.68" y="1467.7" font-family='"Liberation Serif", serif' font-size="22.8" font-weight="normal" text-anchor="middle" fill="#000" >.</text>
<text x="464.55" y="1467.7" font-family='"Liberation Serif", serif' font-size="22.8" font-weight="normal" text-anchor="middle" fill="#000" >0</text>
<line x1="504.8" y1="1488.45" x2="509.8" y2="1488.45" stroke="#888" stroke-width="1.6" />
<line x1="504.8" y1="1517.2" x2="514.8" y2="1517.2" stroke="#888" stroke-width="1.6" />
<text x="487.95" y="1525.2" font-family='"Liberation Serif", serif' font-size="22.8" font-weight="normal" text-anchor="middle" fill="#000" >6</text>
<text x="473.68" y="1525.2" font-family='"Liberation Serif", serif' font-size="22.8" font-weight="normal" text-anchor="middle" fill="#000" >.</text>
<text x="464.55" y="1525.2" font-family='"Liberation Serif", serif' font-size="22.8" font-weight="normal" text-anchor="middle" fill="#000" >0</text>
<line x1="504.8" y1="1545.95" x2="509.8" y2="1545.95" stroke="#888" stroke-width="1.6" />
<line x1="504.8" y1="1574.7" x2="514.8" y2="1574.7" stroke="#888" stroke-width="1.6" />
<text x="487.95" y="1582.7" font-family='"Liberation Serif", serif' font-size="22.8" font-weight="normal" text-anchor="middle" fill="#000" >4</text>
<text x="473.68" y="1582.7" font-family='"Liberation Serif", serif' font-size="22.8" font-weight="normal" text-anchor="middle" fill="#000" >.</text>
<text x="464.55" y="1582.7" font-family='"Liberation Serif", serif' font-size="22.8" font-weight="normal" text-anchor="middle" fill="#000" >0</text>
<line x1="504.8" y1="1603.45" x2="509.8" y2="1603.45" stroke="#888" stroke-width="1.6" />
<line x1="504.8" y1="1632.2" x2="514.8" y2="1632.2" stroke="#888" stroke-width="1.6" />
<text x="487.95" y="1640.2" font-family='"Liberation Serif", serif' font-size="22.8" font-weight="normal" text-anchor="middle" fill="#000" >2</text>
<text x="473.68" y="1640.2" font-family='"Liberation Serif", serif' font-size="22.8" font-weight="normal" text-anchor="middle" fill="#000" >.</text>
<text x="464.55" y="1640.2" font-family='"Liberation Serif", serif' font-size="22.8" font-weight="normal" text-anchor="middle" fill="#000" >0</text>
<line x1="504.8" y1="1660.95" x2="509.8" y2="1660.95" stroke="#888" stroke-width="1.6" />
<line x1="504.8" y1="1689.7" x2="514.8" y2="1689.7" stroke="#888" stroke-width="1.6" />
<text x="487.95" y="1697.7" font-family='"Liberation Serif", serif' font-size="22.8" font-weight="normal" text-anchor="middle" fill="#000" >0</text>
<text x="473.68" y="1697.7" font-family='"Liberation Serif", serif' font-size="22.8" font-weight="normal" text-anchor="middle" fill="#000" >.</text>
<text x="464.55" y="1697.7" font-family='"Liberation Serif", serif' font-size="22.8" font-weight="normal" text-anchor="middle" fill="#000" >0</text>
<line x1="504.8" y1="1718.45" x2="509.8" y2="1718.45" stroke="#888" stroke-width="1.6" />
<line x1="504.8" y1="1747.2" x2="514.8" y2="1747.2" stroke="#888" stroke-width="1.6" />
<text x="487.95" y="1755.2" font-family='"Liberation Serif", serif' font-size="22.8" font-weight="normal" text-anchor="middle" fill="#000" >2</text>
<text x="473.68" y="1755.2" font-family='"Liberation Serif", serif' font-size="22.8" font-weight="normal" text-anchor="middle" fill="#000" >.</text>
<text x="464.55" y="1755.2" font-family='"Liberation Serif", serif' font-size="22.8" font-weight="normal" text-anchor="middle" fill="#000" >0</text>
<text x="452.85" y="1755.2" font-family='"Liberation Serif", serif' font-size="22.8" font-weight="normal" text-anchor="middle" fill="#000" >&#8722;</text>
<line x1="503.8" y1="1746.4" x2="512.8" y2="1746.4" stroke="#888" stroke-width="1.6" />
<line x1="504.8" y1="1746.4" x2="826" y2="1746.4" stroke="#888" stroke-width="1.6" />
<polygon points="838,1746.4 825,1739.6000000000001 825,1753.2" fill="#000"/>
<line x1="537.8" y1="1735.9" x2="537.8" y2="1746.4" stroke="#888" stroke-width="1.6" />
<text x="537.8" y="1776" font-family='"Liberation Serif", serif' font-size="22.5" font-weight="normal" text-anchor="middle" fill="#000" >0</text>
<line x1="571.0999999999999" y1="1740.9" x2="571.0999999999999" y2="1746.4" stroke="#888" stroke-width="1.6" />
<line x1="604.4" y1="1735.9" x2="604.4" y2="1746.4" stroke="#888" stroke-width="1.6" />
<text x="604.4" y="1776" font-family='"Liberation Serif", serif' font-size="22.5" font-weight="normal" text-anchor="middle" fill="#000" >2</text>
<line x1="637.6999999999999" y1="1740.9" x2="637.6999999999999" y2="1746.4" stroke="#888" stroke-width="1.6" />
<line x1="671.0" y1="1735.9" x2="671.0" y2="1746.4" stroke="#888" stroke-width="1.6" />
<text x="671.0" y="1776" font-family='"Liberation Serif", serif' font-size="22.5" font-weight="normal" text-anchor="middle" fill="#000" >4</text>
<line x1="704.3" y1="1740.9" x2="704.3" y2="1746.4" stroke="#888" stroke-width="1.6" />
<line x1="737.5999999999999" y1="1735.9" x2="737.5999999999999" y2="1746.4" stroke="#888" stroke-width="1.6" />
<text x="737.5999999999999" y="1776" font-family='"Liberation Serif", serif' font-size="22.5" font-weight="normal" text-anchor="middle" fill="#000" >6</text>
<line x1="770.8999999999999" y1="1740.9" x2="770.8999999999999" y2="1746.4" stroke="#888" stroke-width="1.6" />
<line x1="804.1999999999999" y1="1735.9" x2="804.1999999999999" y2="1746.4" stroke="#888" stroke-width="1.6" />
<text x="804.1999999999999" y="1776" font-family='"Liberation Serif", serif' font-size="22.5" font-weight="normal" text-anchor="middle" fill="#000" >8</text>
<text x="671.5" y="1812" font-family='"Liberation Serif", serif' font-size="30" font-weight="normal" text-anchor="middle" fill="#000" >t</text>
<text x="0" y="0" font-family='"Liberation Serif", serif' font-size="32.2" text-anchor="middle" transform="translate(438,1473.6) rotate(-90) scale(1,0.9)">Step</text>
<rect x="526" y="1228" width="40" height="275.5" fill="none" stroke="#555" stroke-width="1.25"/>
<line x1="546" y1="1503.5" x2="557" y2="1551" stroke="#000" stroke-width="1.3" />
<polygon points="559,1560 553.5,1550 560.5,1549" fill="#000"/>
<polyline points="538.0,1689.7 538.3,1314.0 538.2,1362.1 539.0,1452.7 538.7,1373.1 538.9,1436.8 539.9,1376.9 540.0,1434.1 540.0,1374.4 540.9,1438.4 540.2,1378.6 540.6,1439.8 541.7,1373.7 542.0,1435.2 542.5,1376.1 541.9,1434.2 542.5,1378.5 542.9,1426.7 542.9,1383.6 543.1,1421.4 544.0,1381.6 544.5,1426.1 544.3,1383.6 544.1,1424.2 544.7,1389.6 544.7,1421.2 545.1,1388.6 545.8,1418.8 545.5,1389.4 545.9,1416.4 546.1,1391.2 546.3,1418.4 547.6,1392.0 547.6,1419.1 547.1,1394.1 548.3,1417.3 548.4,1394.7 548.4,1416.4 549.2,1392.3 548.7,1415.3 549.2,1393.5 549.2,1415.0 550.1,1394.2 549.9,1412.5 550.6,1395.3 550.6,1412.3 550.9,1396.9 551.0,1411.4 551.2,1397.6 551.4,1410.6 552.3,1397.1 551.9,1409.4 555.5,1404.0" fill="none" stroke="#00cc00" stroke-width="1.4" stroke-dasharray="2,2" stroke-linecap="butt" stroke-linejoin="round" />
<polyline points="538.0,1689.7 538.3,1314.0 538.3,1374.8 538.2,1453.0 538.6,1373.5 539.0,1441.8 539.1,1373.2 539.7,1443.0 539.5,1377.3 540.4,1442.2 540.6,1377.4 541.1,1429.4 540.6,1379.0 541.9,1433.4 541.4,1378.8 542.4,1425.1 542.3,1383.9 542.2,1423.8 542.4,1385.4 542.5,1423.4 542.8,1383.1 543.7,1418.0 544.1,1389.2 544.0,1421.9 544.1,1389.5 544.5,1417.0 545.3,1391.8 545.5,1416.6 545.2,1390.8 545.1,1414.9 545.8,1391.4 546.6,1419.8 545.9,1391.8 546.3,1417.4 546.8,1390.8 547.3,1412.4 546.9,1394.7 548.2,1411.8 548.0,1394.8 548.1,1414.4 548.2,1394.0 549.0,1414.2 549.1,1393.9 549.3,1411.8 549.8,1394.9 550.4,1409.3 549.7,1396.5 550.8,1410.4 550.5,1395.7 550.7,1408.3 550.7,1398.8 551.8,1408.0 554.5,1404.0" fill="none" stroke="#ee2222" stroke-width="1.5" stroke-dasharray="2,2" stroke-linecap="butt" stroke-linejoin="round" />
<polyline points="538.0,1689.7 538.3,1314.0 538.8,1366.8 539.2,1443.2 538.7,1372.6 539.3,1439.2 538.8,1372.6 538.7,1430.7 539.9,1378.1 539.2,1435.8 539.5,1385.2 539.2,1426.7 539.7,1376.0 539.7,1432.7 540.6,1383.1 540.9,1429.8 540.4,1385.8 540.5,1429.7 540.7,1387.5 540.7,1423.6 540.6,1385.2 540.5,1425.7 540.8,1390.1 541.5,1419.5 541.9,1388.0 541.6,1423.0 541.4,1387.1 542.1,1418.5 542.6,1392.9 542.6,1415.4 542.7,1392.7 541.9,1417.2 543.1,1392.8 542.7,1417.0 542.5,1391.9 542.4,1415.1 543.4,1393.6 542.9,1412.0 543.6,1393.8 544.0,1415.3 543.2,1392.1 544.3,1414.9 544.3,1393.8 544.3,1413.4 544.3,1396.0 543.9,1413.0 544.6,1397.2 544.8,1411.9 544.8,1395.1 545.3,1410.5 545.4,1396.5 545.2,1410.1 545.8,1397.1 546.0,1409.4 545.8,1396.1 545.9,1409.1 545.3,1397.7 545.9,1410.1 546.4,1396.7 546.2,1408.5 546.4,1397.7 546.0,1407.6 549.5,1404.0" fill="none" stroke="#1010ee" stroke-width="2.0" stroke-dasharray="4,1.5" stroke-linecap="butt" stroke-linejoin="round" />
<polyline points="538.3,1689.0 538.3,1400.0" fill="none" stroke="#1010ee" stroke-width="1.6" stroke-linecap="butt" stroke-linejoin="miter" />
<polyline points="538.8,1689.0 538.8,1400.0" fill="none" stroke="#000" stroke-width="1.0" stroke-dasharray="2,3" stroke-linecap="butt" stroke-linejoin="miter" />
<polyline points="542.5,1480.0 541.0,1420.0 540.0,1249.0" fill="none" stroke="#00f0f0" stroke-width="1.0" stroke-dasharray="4,2" stroke-linecap="butt" stroke-linejoin="miter" />
<rect x="547.5999999999999" y="1388.1" width="6.4" height="6.4" fill="#ee2222"/>
<rect x="547.8" y="1394.8" width="6.4" height="6.4" fill="#00f0f0"/>
<rect x="547.8" y="1401.3999999999999" width="6.4" height="6.4" fill="#1010ee"/>
<rect x="560.8" y="1403.8" width="6.4" height="6.4" fill="#ee2222"/>
<polyline points="560.0,1402.0 805.0,1401.7" fill="none" stroke="#00f0f0" stroke-width="1.5" stroke-linecap="butt" stroke-linejoin="miter" />
<polyline points="556.0,1404.0 575.0,1407.3 700.0,1407.0 805.0,1402.0" fill="none" stroke="#1010ee" stroke-width="1.5" stroke-linecap="butt" stroke-linejoin="miter" />
<rect x="534.7" y="1686.4" width="6.6" height="6.6" fill="#00f0f0"/>
<rect x="575" y="1404.2" width="6" height="6" fill="#1010ee"/>
<rect x="588.4" y="1404.2" width="6" height="6" fill="#1010ee"/>
<rect x="601.8" y="1404.2" width="6" height="6" fill="#1010ee"/>
<rect x="615.2" y="1404.2" width="6" height="6" fill="#1010ee"/>
<rect x="628.6" y="1404.2" width="6" height="6" fill="#1010ee"/>
<rect x="642.0" y="1404.2" width="6" height="6" fill="#1010ee"/>
<rect x="655.4" y="1404.2" width="6" height="6" fill="#1010ee"/>
<rect x="668.8" y="1404.2" width="6" height="6" fill="#1010ee"/>
<rect x="682.2" y="1404.2" width="6" height="6" fill="#1010ee"/>
<rect x="695.6" y="1403.8" width="6" height="6" fill="#1010ee"/>
<rect x="709.0" y="1403.1" width="6" height="6" fill="#1010ee"/>
<rect x="722.4" y="1402.4" width="6" height="6" fill="#1010ee"/>
<rect x="735.8" y="1401.8" width="6" height="6" fill="#1010ee"/>
<rect x="749.2" y="1401.1" width="6" height="6" fill="#1010ee"/>
<rect x="762.6" y="1400.4" width="6" height="6" fill="#1010ee"/>
<rect x="776.0" y="1399.8" width="6" height="6" fill="#1010ee"/>
<rect x="560.5" y="1398.5" width="6.4" height="6.4" fill="#00f0f0"/>
<rect x="573.9" y="1398.5" width="6.4" height="6.4" fill="#00f0f0"/>
<rect x="587.3" y="1398.5" width="6.4" height="6.4" fill="#00f0f0"/>
<rect x="600.6999999999999" y="1398.5" width="6.4" height="6.4" fill="#00f0f0"/>
<rect x="614.0999999999999" y="1398.5" width="6.4" height="6.4" fill="#00f0f0"/>
<rect x="627.5" y="1398.5" width="6.4" height="6.4" fill="#00f0f0"/>
<rect x="640.9" y="1398.5" width="6.4" height="6.4" fill="#00f0f0"/>
<rect x="654.3" y="1398.5" width="6.4" height="6.4" fill="#00f0f0"/>
<rect x="667.6999999999999" y="1398.5" width="6.4" height="6.4" fill="#00f0f0"/>
<rect x="681.0999999999999" y="1398.5" width="6.4" height="6.4" fill="#00f0f0"/>
<rect x="694.5" y="1398.5" width="6.4" height="6.4" fill="#00f0f0"/>
<rect x="707.9" y="1398.5" width="6.4" height="6.4" fill="#00f0f0"/>
<rect x="721.3" y="1398.5" width="6.4" height="6.4" fill="#00f0f0"/>
<rect x="734.6999999999999" y="1398.5" width="6.4" height="6.4" fill="#00f0f0"/>
<rect x="748.0999999999999" y="1398.5" width="6.4" height="6.4" fill="#00f0f0"/>
<rect x="761.5" y="1398.5" width="6.4" height="6.4" fill="#00f0f0"/>
<rect x="774.9" y="1398.5" width="6.4" height="6.4" fill="#00f0f0"/>
<rect x="788.3" y="1398.5" width="6.4" height="6.4" fill="#00f0f0"/>
<rect x="801.6999999999999" y="1398.5" width="6.4" height="6.4" fill="#00f0f0"/>
<polyline points="614.8,1241.6 659.5,1241.6" fill="none" stroke="#000" stroke-width="1.5" stroke-linecap="butt" stroke-linejoin="miter" />
<rect x="634.1" y="1238.6" width="6" height="6" fill="#000"/>
<text x="664.9" y="1248.6" font-family='"Liberation Serif", serif' font-size="19.7" font-weight="normal" text-anchor="start" fill="#000" >GA-PID-Fractional order</text>
<polyline points="614.8,1266.5 659.5,1266.5" fill="none" stroke="#00ee00" stroke-width="1.4" stroke-dasharray="6,5" stroke-linecap="butt" stroke-linejoin="miter" />
<rect x="634.1" y="1263.5" width="6" height="6" fill="#00ee00"/>
<text x="664.9" y="1273.5" font-family='"Liberation Serif", serif' font-size="19.7" font-weight="normal" text-anchor="start" fill="#000" >GPS-PID-Fractional order</text>
<polyline points="614.8,1292.0 659.5,1292.0" fill="none" stroke="#ee2222" stroke-width="1.3" stroke-dasharray="1.5,4" stroke-linecap="butt" stroke-linejoin="miter" />
<rect x="634.1" y="1289" width="6" height="6" fill="#ee2222"/>
<text x="664.9" y="1299" font-family='"Liberation Serif", serif' font-size="19.7" font-weight="normal" text-anchor="start" fill="#000" >PSO-PID-Fractional order</text>
<polyline points="614.8,1316.6 659.5,1316.6" fill="none" stroke="#1010ee" stroke-width="1.3" stroke-dasharray="6,3,1.5,3" stroke-linecap="butt" stroke-linejoin="miter" />
<rect x="634.1" y="1313.6" width="6" height="6" fill="#1010ee"/>
<text x="664.9" y="1323.6" font-family='"Liberation Serif", serif' font-size="19.7" font-weight="normal" text-anchor="start" fill="#000" >WOA-PID-Fractional order</text>
<polyline points="614.8,1340.5 659.5,1340.5" fill="none" stroke="#00f0f0" stroke-width="1.3" stroke-dasharray="5,3,1.5,3,1.5,3" stroke-linecap="butt" stroke-linejoin="miter" />
<rect x="633.6" y="1337.0" width="7.0" height="7.0" fill="#00f0f0"/>
<text x="664.9" y="1347.5" font-family='"Liberation Serif", serif' font-size="19.7" font-weight="normal" text-anchor="start" fill="#000" >optimal-PID-Fractional order</text>
<line x1="593.75" y1="1496.25" x2="593.75" y2="1668.1" stroke="#222" stroke-width="1.5" />
<line x1="593.75" y1="1668.1" x2="831.9" y2="1668.1" stroke="#222" stroke-width="1.5" />
<line x1="590.25" y1="1514.2" x2="593.75" y2="1514.2" stroke="#222" stroke-width="1.3" />
<text x="583.9" y="1519.7" font-family='"Liberation Serif", serif' font-size="14" font-weight="normal" text-anchor="middle" fill="#000" >5</text>
<text x="574.87" y="1519.7" font-family='"Liberation Serif", serif' font-size="14" font-weight="normal" text-anchor="middle" fill="#000" >.</text>
<text x="569.1" y="1519.7" font-family='"Liberation Serif", serif' font-size="14" font-weight="normal" text-anchor="middle" fill="#000" >1</text>
<line x1="590.25" y1="1622.5" x2="593.75" y2="1622.5" stroke="#222" stroke-width="1.3" />
<text x="583.9" y="1628.0" font-family='"Liberation Serif", serif' font-size="14" font-weight="normal" text-anchor="middle" fill="#000" >0</text>
<text x="574.87" y="1628.0" font-family='"Liberation Serif", serif' font-size="14" font-weight="normal" text-anchor="middle" fill="#000" >.</text>
<text x="569.1" y="1628.0" font-family='"Liberation Serif", serif' font-size="14" font-weight="normal" text-anchor="middle" fill="#000" >1</text>
<line x1="590.25" y1="1568.1" x2="593.75" y2="1568.1" stroke="#222" stroke-width="1.3" />
<line x1="596.1" y1="1668.1" x2="596.1" y2="1671.6" stroke="#222" stroke-width="1.3" />
<text x="603.4" y="1686.1" font-family='"Liberation Serif", serif' font-size="14" font-weight="normal" text-anchor="middle" fill="#000" >0</text>
<text x="594.49" y="1686.1" font-family='"Liberation Serif", serif' font-size="14" font-weight="normal" text-anchor="middle" fill="#000" >.</text>
<text x="588.8" y="1686.1" font-family='"Liberation Serif", serif' font-size="14" font-weight="normal" text-anchor="middle" fill="#000" >0</text>
<line x1="743.3" y1="1668.1" x2="743.3" y2="1671.6" stroke="#222" stroke-width="1.3" />
<text x="750.6" y="1686.1" font-family='"Liberation Serif", serif' font-size="14" font-weight="normal" text-anchor="middle" fill="#000" >2</text>
<text x="741.69" y="1686.1" font-family='"Liberation Serif", serif' font-size="14" font-weight="normal" text-anchor="middle" fill="#000" >.</text>
<text x="736.0" y="1686.1" font-family='"Liberation Serif", serif' font-size="14" font-weight="normal" text-anchor="middle" fill="#000" >0</text>
<line x1="669.5" y1="1668.1" x2="669.5" y2="1671.6" stroke="#222" stroke-width="1.3" />
<line x1="817.5" y1="1668.1" x2="817.5" y2="1671.6" stroke="#222" stroke-width="1.3" />
<text x="682" y="1692.3" font-family='"Liberation Serif", serif' font-size="15.5" font-weight="normal" text-anchor="middle" fill="#000" >t</text>
<polyline points="622.2,1668.1 633.1,1565.0 639.4,1518.1 647.2,1507.2 656.6,1536.9 667.5,1599.4 678.4,1668.1" fill="none" stroke="#22e6f0" stroke-width="2.8" stroke-dasharray="8,5,1.5,5" stroke-linecap="butt" stroke-linejoin="round" />
<polyline points="705.0,1668.1 713.1,1649.4 722.5,1624.4 733.4,1621.3 749.1,1633.8 767.8,1642.3 783.4,1635.3 803.8,1623.6 819.4,1619.7 831.9,1620.5" fill="none" stroke="#22e6f0" stroke-width="2.8" stroke-dasharray="8,5" stroke-linecap="butt" stroke-linejoin="round" />
<polyline points="601.9,1668.1 610.5,1556.4 618.3,1665.0 625.3,1644.7 633.1,1566.6 640.2,1647.0 647.2,1659.5 655.0,1575.2 669.1,1663.4 676.9,1591.6 683.9,1607.2 691.7,1661.9 698.8,1608.8 706.6,1598.6 713.9,1655.6 728.8,1596.3 735.8,1644.7 743.6,1633.0 750.6,1597.8 758.4,1634.5 765.5,1640.0 773.3,1603.3 781.1,1627.5 788.1,1642.3 795.2,1609.5 803.0,1618.1 810.0,1641.6 817.8,1616.6 824.8,1613.4 831.9,1638.4" fill="none" stroke="#000" stroke-width="2.6" stroke-linecap="butt" stroke-linejoin="miter" />
<polyline points="601.9,1668.1 610.5,1556.4 618.3,1665.0 625.3,1644.7 633.1,1566.6 640.2,1647.0 647.2,1659.5 655.0,1575.2 669.1,1663.4 676.9,1591.6 683.9,1607.2 691.7,1661.9 698.8,1608.8 706.6,1598.6 713.9,1655.6 728.8,1596.3 735.8,1644.7 743.6,1633.0 750.6,1597.8 758.4,1634.5 765.5,1640.0 773.3,1603.3 781.1,1627.5 788.1,1642.3 795.2,1609.5 803.0,1618.1 810.0,1641.6 817.8,1616.6 824.8,1613.4 831.9,1638.4" fill="none" stroke="#00ee00" stroke-width="2.2" stroke-dasharray="7,9" stroke-linecap="butt" stroke-linejoin="miter" />
<polyline points="601.9,1668.1 611.3,1568.1 618.3,1663.4 626.9,1627.5 633.1,1577.5 640.9,1652.5 648.8,1627.5 655.8,1588.4 664.4,1639.2 669.8,1639.2 677.7,1596.3 689.4,1638.4 700.3,1605.6 712.8,1633.8 721.7,1611.9 735.8,1635.3 745.9,1616.6 758.4,1632.2 772.5,1618.9 781.9,1630.6 794.4,1619.7 806.9,1627.5 817.8,1619.7 831.9,1624.4" fill="none" stroke="#1a2aee" stroke-width="3.2" stroke-dasharray="10,5" stroke-linecap="butt" stroke-linejoin="round" />
<text x="0" y="1863.8" font-family='"Liberation Sans", sans-serif' font-size="40" font-weight="bold" text-anchor="start" fill="#000" >D</text>
<line x1="145.6" y1="1873.2" x2="145.6" y2="2339.5" stroke="#000" stroke-width="2" />
<polygon points="145.6,1861.4 138.9,1874.2 152.29999999999998,1874.2" fill="#000"/>
<line x1="145.6" y1="1862.0" x2="154.6" y2="1862.0" stroke="#000" stroke-width="2" />
<text x="129.85" y="1870.0" font-family='"Liberation Serif", serif' font-size="20.3" font-weight="normal" text-anchor="middle" fill="#000" >4</text>
<text x="117.04" y="1870.0" font-family='"Liberation Serif", serif' font-size="20.3" font-weight="normal" text-anchor="middle" fill="#000" >.</text>
<text x="108.85" y="1870.0" font-family='"Liberation Serif", serif' font-size="20.3" font-weight="normal" text-anchor="middle" fill="#000" >1</text>
<line x1="145.6" y1="1891.8" x2="150.6" y2="1891.8" stroke="#000" stroke-width="2" />
<line x1="145.6" y1="1921.6" x2="154.6" y2="1921.6" stroke="#000" stroke-width="2" />
<text x="129.85" y="1929.6" font-family='"Liberation Serif", serif' font-size="20.3" font-weight="normal" text-anchor="middle" fill="#000" >2</text>
<text x="117.04" y="1929.6" font-family='"Liberation Serif", serif' font-size="20.3" font-weight="normal" text-anchor="middle" fill="#000" >.</text>
<text x="108.85" y="1929.6" font-family='"Liberation Serif", serif' font-size="20.3" font-weight="normal" text-anchor="middle" fill="#000" >1</text>
<line x1="145.6" y1="1951.4" x2="150.6" y2="1951.4" stroke="#000" stroke-width="2" />
<line x1="145.6" y1="1981.2" x2="154.6" y2="1981.2" stroke="#000" stroke-width="2" />
<text x="129.85" y="1989.2" font-family='"Liberation Serif", serif' font-size="20.3" font-weight="normal" text-anchor="middle" fill="#000" >0</text>
<text x="117.04" y="1989.2" font-family='"Liberation Serif", serif' font-size="20.3" font-weight="normal" text-anchor="middle" fill="#000" >.</text>
<text x="108.85" y="1989.2" font-family='"Liberation Serif", serif' font-size="20.3" font-weight="normal" text-anchor="middle" fill="#000" >1</text>
<line x1="145.6" y1="2011.0" x2="150.6" y2="2011.0" stroke="#000" stroke-width="2" />
<line x1="145.6" y1="2040.8" x2="154.6" y2="2040.8" stroke="#000" stroke-width="2" />
<text x="129.85" y="2048.8" font-family='"Liberation Serif", serif' font-size="20.3" font-weight="normal" text-anchor="middle" fill="#000" >8</text>
<text x="117.04" y="2048.8" font-family='"Liberation Serif", serif' font-size="20.3" font-weight="normal" text-anchor="middle" fill="#000" >.</text>
<text x="108.85" y="2048.8" font-family='"Liberation Serif", serif' font-size="20.3" font-weight="normal" text-anchor="middle" fill="#000" >0</text>
<line x1="145.6" y1="2070.6" x2="150.6" y2="2070.6" stroke="#000" stroke-width="2" />
<line x1="145.6" y1="2100.4" x2="154.6" y2="2100.4" stroke="#000" stroke-width="2" />
<text x="129.85" y="2108.4" font-family='"Liberation Serif", serif' font-size="20.3" font-weight="normal" text-anchor="middle" fill="#000" >6</text>
<text x="117.04" y="2108.4" font-family='"Liberation Serif", serif' font-size="20.3" font-weight="normal" text-anchor="middle" fill="#000" >.</text>
<text x="108.85" y="2108.4" font-family='"Liberation Serif", serif' font-size="20.3" font-weight="normal" text-anchor="middle" fill="#000" >0</text>
<line x1="145.6" y1="2130.2" x2="150.6" y2="2130.2" stroke="#000" stroke-width="2" />
<line x1="145.6" y1="2160.0" x2="154.6" y2="2160.0" stroke="#000" stroke-width="2" />
<text x="129.85" y="2168.0" font-family='"Liberation Serif", serif' font-size="20.3" font-weight="normal" text-anchor="middle" fill="#000" >4</text>
<text x="117.04" y="2168.0" font-family='"Liberation Serif", serif' font-size="20.3" font-weight="normal" text-anchor="middle" fill="#000" >.</text>
<text x="108.85" y="2168.0" font-family='"Liberation Serif", serif' font-size="20.3" font-weight="normal" text-anchor="middle" fill="#000" >0</text>
<line x1="145.6" y1="2189.8" x2="150.6" y2="2189.8" stroke="#000" stroke-width="2" />
<line x1="145.6" y1="2219.6" x2="154.6" y2="2219.6" stroke="#000" stroke-width="2" />
<text x="129.85" y="2227.6" font-family='"Liberation Serif", serif' font-size="20.3" font-weight="normal" text-anchor="middle" fill="#000" >2</text>
<text x="117.04" y="2227.6" font-family='"Liberation Serif", serif' font-size="20.3" font-weight="normal" text-anchor="middle" fill="#000" >.</text>
<text x="108.85" y="2227.6" font-family='"Liberation Serif", serif' font-size="20.3" font-weight="normal" text-anchor="middle" fill="#000" >0</text>
<line x1="145.6" y1="2249.3999999999996" x2="150.6" y2="2249.3999999999996" stroke="#000" stroke-width="2" />
<line x1="145.6" y1="2279.2" x2="154.6" y2="2279.2" stroke="#000" stroke-width="2" />
<text x="129.85" y="2287.2" font-family='"Liberation Serif", serif' font-size="20.3" font-weight="normal" text-anchor="middle" fill="#000" >0</text>
<text x="117.04" y="2287.2" font-family='"Liberation Serif", serif' font-size="20.3" font-weight="normal" text-anchor="middle" fill="#000" >.</text>
<text x="108.85" y="2287.2" font-family='"Liberation Serif", serif' font-size="20.3" font-weight="normal" text-anchor="middle" fill="#000" >0</text>
<line x1="145.6" y1="2309.0" x2="150.6" y2="2309.0" stroke="#000" stroke-width="2" />
<line x1="145.6" y1="2338.8" x2="154.6" y2="2338.8" stroke="#000" stroke-width="2" />
<text x="129.85" y="2346.8" font-family='"Liberation Serif", serif' font-size="20.3" font-weight="normal" text-anchor="middle" fill="#000" >2</text>
<text x="117.04" y="2346.8" font-family='"Liberation Serif", serif' font-size="20.3" font-weight="normal" text-anchor="middle" fill="#000" >.</text>
<text x="108.85" y="2346.8" font-family='"Liberation Serif", serif' font-size="20.3" font-weight="normal" text-anchor="middle" fill="#000" >0</text>
<text x="98.35" y="2346.8" font-family='"Liberation Serif", serif' font-size="20.3" font-weight="normal" text-anchor="middle" fill="#000" >&#8722;</text>
<line x1="144.6" y1="2339.5" x2="728.5" y2="2339.5" stroke="#000" stroke-width="2" />
<polygon points="740.5,2339.5 727.5,2332.7 727.5,2346.3" fill="#000"/>
<line x1="204.5" y1="2329.5" x2="204.5" y2="2339.5" stroke="#000" stroke-width="2" />
<text x="204.5" y="2367.5" font-family='"Liberation Serif", serif' font-size="20.5" font-weight="normal" text-anchor="middle" fill="#000" >0</text>
<line x1="264.25" y1="2334.5" x2="264.25" y2="2339.5" stroke="#000" stroke-width="2" />
<line x1="324.0" y1="2329.5" x2="324.0" y2="2339.5" stroke="#000" stroke-width="2" />
<text x="324.0" y="2367.5" font-family='"Liberation Serif", serif' font-size="20.5" font-weight="normal" text-anchor="middle" fill="#000" >2</text>
<line x1="383.75" y1="2334.5" x2="383.75" y2="2339.5" stroke="#000" stroke-width="2" />
<line x1="443.5" y1="2329.5" x2="443.5" y2="2339.5" stroke="#000" stroke-width="2" />
<text x="443.5" y="2367.5" font-family='"Liberation Serif", serif' font-size="20.5" font-weight="normal" text-anchor="middle" fill="#000" >4</text>
<line x1="503.25" y1="2334.5" x2="503.25" y2="2339.5" stroke="#000" stroke-width="2" />
<line x1="563.0" y1="2329.5" x2="563.0" y2="2339.5" stroke="#000" stroke-width="2" />
<text x="563.0" y="2367.5" font-family='"Liberation Serif", serif' font-size="20.5" font-weight="normal" text-anchor="middle" fill="#000" >6</text>
<line x1="622.75" y1="2334.5" x2="622.75" y2="2339.5" stroke="#000" stroke-width="2" />
<line x1="682.5" y1="2329.5" x2="682.5" y2="2339.5" stroke="#000" stroke-width="2" />
<text x="682.5" y="2367.5" font-family='"Liberation Serif", serif' font-size="20.5" font-weight="normal" text-anchor="middle" fill="#000" >8</text>
<text x="443" y="2400" font-family='"Liberation Serif", serif' font-size="26" font-weight="normal" text-anchor="middle" fill="#000" >t</text>
<text x="0" y="0" font-family='"Liberation Serif", serif' font-size="28.9" text-anchor="middle" transform="translate(65.8,2088.2) rotate(-90)">Step</text>
<rect x="193.1" y="1897" width="64.4" height="136" fill="none" stroke="#555" stroke-width="1.25"/>
<polyline points="205.0,2279.0 205.5,1902.0 205.6,1922.4 206.9,2024.0 206.7,1930.7 206.8,2013.2 205.6,1945.5 207.6,2016.1 207.3,1950.3 208.5,2037.7 207.7,1933.2 207.2,2029.0 209.5,1959.3 209.3,2017.7 210.3,1959.6 209.6,2023.7 210.1,1959.0 209.1,2021.8 210.3,1946.5 209.8,2015.7 211.7,1950.7 210.1,2003.4 210.5,1956.0 211.6,2013.4 211.9,1957.6 213.4,1997.6 213.0,1956.7 213.2,1998.4 212.9,1960.9 213.0,2000.8 214.2,1965.5 213.5,2000.1 215.7,1969.4 214.6,2001.9 215.5,1970.8 214.4,1998.4 215.5,1969.7 215.6,1995.6 217.0,1972.0 215.8,1998.2 218.1,1975.2 217.6,1994.0 217.5,1970.1 219.1,1992.1 218.1,1974.8 218.0,1987.7 218.0,1975.2 220.0,1990.0 220.3,1971.3 220.6,1986.0 221.2,1976.7 221.1,1990.6 221.1,1975.4 220.0,1985.4 221.7,1976.6 221.7,1986.1 221.2,1976.7 222.8,1986.8 222.3,1976.3 223.0,1986.4 223.1,1974.9 224.1,1984.8" fill="none" stroke="#e8c080" stroke-width="1.3" stroke-dasharray="1.5,2" stroke-linecap="butt" stroke-linejoin="round" />
<polyline points="205.0,2279.0 205.5,1902.0 205.1,1946.1 205.5,2013.0 206.7,1934.6 206.3,2047.3 206.4,1937.8 208.1,2028.9 207.7,1947.9 208.9,2032.3 207.6,1950.9 208.6,2020.5 208.8,1957.7 209.2,2023.1 210.0,1953.1 209.6,2014.1 210.1,1954.6 209.2,2005.3 211.8,1949.2 210.9,2015.1 210.6,1962.7 211.7,2011.3 210.8,1960.4 213.2,2007.1 213.8,1968.2 213.9,2009.3 212.1,1962.5 214.2,1996.4 214.2,1959.5 214.9,1998.5 213.5,1965.2 214.1,1998.8 214.6,1968.8 215.6,2001.2 216.9,1969.1 214.9,1998.8 216.1,1966.4 217.6,1989.1 217.6,1972.0 217.0,1991.7 217.8,1973.1 218.0,1990.3 217.5,1973.7 219.1,1989.8 218.3,1973.4 218.7,1994.8 220.4,1975.4 219.5,1989.5 220.4,1974.4 220.7,1991.1 220.1,1973.9 220.5,1988.9 221.2,1973.2 222.8,1990.8 222.0,1974.7 221.8,1988.7 223.6,1976.0 222.8,1988.3 224.1,1974.9 223.3,1985.3 223.6,1977.7 223.3,1984.4" fill="none" stroke="#66ee66" stroke-width="1.1" stroke-dasharray="1,4" stroke-linecap="butt" stroke-linejoin="round" />
<polyline points="205.0,2279.0 205.5,1902.0 205.5,1947.4 206.8,2016.4 205.4,1937.8 205.6,2011.1 207.6,1957.4 208.4,2018.3 207.2,1948.6 209.0,2008.6 207.5,1966.6 209.5,2013.2 209.5,1957.2 210.2,1997.5 209.1,1958.6 211.0,1998.8 210.0,1971.4 210.7,2003.5 210.5,1969.8 210.5,1996.6 210.9,1967.4 212.3,1993.2 212.1,1972.3 214.0,1996.9 214.0,1974.0 213.1,1990.0 215.0,1969.8 213.8,1991.0 214.5,1974.1 214.5,1990.5 216.2,1972.2 215.9,1987.7 216.6,1977.1 217.5,1988.7 216.3,1976.4 217.3,1988.2 218.2,1977.6 219.1,1987.7 219.3,1977.1 218.7,1985.0 220.3,1977.6 220.6,1983.8" fill="none" stroke="#e0b070" stroke-width="1.2" stroke-dasharray="1,2.5" stroke-linecap="butt" stroke-linejoin="round" />
<polyline points="204.5,2279.5 204.9,2107.0 205.0,2014.4 205.5,1943.9 205.9,1960.4 206.1,1983.9 206.3,2009.7 206.5,2010.8 207.0,1993.2 207.5,1970.9 208.2,1993.2 208.9,1979.1 210.4,1984.3 212.9,1983.3 216.5,1984.5 221.0,1985.7 227.7,1986.2 229.2,1986.2 213.0,1985.0 227.0,1987.5 252.0,1987.5 275.0,1984.5 300.0,1982.3 330.0,1981.5 681.0,1981.5" fill="none" stroke="#222" stroke-width="1.5" stroke-dasharray="6,6" stroke-linecap="butt" stroke-linejoin="round" />
<polyline points="204.5,2279.5 204.9,2107.0 205.3,2004.9 205.7,1905.3 206.0,1972.1 206.3,2035.5 207.0,1976.8 207.4,1922.8 208.1,2023.7 209.1,1937.0 209.9,2004.9 211.0,1946.3 212.0,2002.6 212.9,1958.1 214.0,1999.1 214.6,1970.2 215.8,1997.9 216.4,1972.1 217.6,1995.5 218.5,1978.6 219.7,1989.7 221.2,1986.2 223.3,1986.2 225.1,1986.2 227.5,1983.9 229.0,1987.4 681.0,1982.0" fill="none" stroke="#e8b860" stroke-width="1.3" stroke-dasharray="6,3,1.5,3" stroke-linecap="butt" stroke-linejoin="round" />
<polyline points="204.5,2279.5 204.8,2106.6 205.2,1983.9 205.7,1916.6 206.1,1992.3 206.5,2051.1 207.0,1958.6 207.5,1916.6 208.1,2017.5 209.1,1933.4 209.9,2009.1 211.0,1941.8 212.0,2004.9 213.0,1954.4 214.1,2000.7 214.8,1965.4 215.9,2000.7 216.6,1968.7 217.7,1999.0 218.6,1975.4 219.9,1992.3 221.5,1983.9 223.2,1988.1 225.3,1982.2 229.2,1985.5 681.0,1983.0" fill="none" stroke="#55ee55" stroke-width="1.3" stroke-dasharray="1.5,3" stroke-linecap="butt" stroke-linejoin="round" />
<polyline points="204.5,2279.5 206.1,2107.0 206.8,2007.3 207.5,1971.7 208.1,1981.5 208.7,2004.9 209.3,2023.3 209.8,2022.1 211.0,1997.5 211.7,1990.4 212.3,1990.4 213.5,1995.1 214.2,1994.4 215.6,1988.6 216.4,1986.9 217.3,1987.4 219.0,1986.2 221.9,1985.0 224.8,1983.9 229.2,1983.1 230.0,1981.4 681.0,1981.4" fill="none" stroke="#ee3333" stroke-width="1.8" stroke-linecap="butt" stroke-linejoin="round" />
<polyline points="208.0,1990.0 209.5,2023.0 211.0,1990.0" fill="none" stroke="#ee3333" stroke-width="1.3" stroke-linecap="butt" stroke-linejoin="miter" />
<polyline points="204.7,2279.0 204.7,1990.0" fill="none" stroke="#ee3333" stroke-width="1.2" stroke-linecap="butt" stroke-linejoin="miter" />
<polyline points="205.6,2279.0 205.6,1920.0" fill="none" stroke="#55ee55" stroke-width="1.2" stroke-dasharray="3,3" stroke-linecap="butt" stroke-linejoin="miter" />
<rect x="201.3" y="2276.3" width="6.4" height="6.4" fill="#a0c050"/>
<rect x="223.8" y="1984.3" width="6.4" height="6.4" fill="#111"/>
<rect x="248.0" y="1981.6" width="6.4" height="6.4" fill="#111"/>
<rect x="272.2" y="1980.1" width="6.4" height="6.4" fill="#111"/>
<rect x="296.40000000000003" y="1979.3" width="6.4" height="6.4" fill="#111"/>
<rect x="320.6" y="1978.8" width="6.4" height="6.4" fill="#111"/>
<rect x="344.8" y="1978.6" width="6.4" height="6.4" fill="#111"/>
<rect x="369.0" y="1978.5" width="6.4" height="6.4" fill="#111"/>
<rect x="393.2" y="1978.3999999999999" width="6.4" height="6.4" fill="#111"/>
<rect x="417.40000000000003" y="1978.3" width="6.4" height="6.4" fill="#111"/>
<rect x="441.6" y="1978.3" width="6.4" height="6.4" fill="#111"/>
<rect x="465.8" y="1978.3" width="6.4" height="6.4" fill="#111"/>
<rect x="490.0" y="1978.3" width="6.4" height="6.4" fill="#111"/>
<rect x="514.1999999999999" y="1978.3" width="6.4" height="6.4" fill="#111"/>
<rect x="538.4" y="1978.3" width="6.4" height="6.4" fill="#111"/>
<rect x="562.5999999999999" y="1978.3" width="6.4" height="6.4" fill="#111"/>
<rect x="586.8" y="1978.3" width="6.4" height="6.4" fill="#111"/>
<rect x="611.0" y="1978.3" width="6.4" height="6.4" fill="#111"/>
<rect x="635.1999999999999" y="1978.3" width="6.4" height="6.4" fill="#111"/>
<rect x="659.4" y="1978.3" width="6.4" height="6.4" fill="#111"/>
<circle cx="234.5" cy="1981.4" r="4.2" fill="#ff1010"/>
<circle cx="249.3" cy="1981.4" r="4.2" fill="#ff1010"/>
<circle cx="264.2" cy="1981.4" r="4.2" fill="#ff1010"/>
<circle cx="279.1" cy="1981.4" r="4.2" fill="#ff1010"/>
<circle cx="293.9" cy="1981.4" r="4.2" fill="#ff1010"/>
<circle cx="308.8" cy="1981.4" r="4.2" fill="#ff1010"/>
<circle cx="323.6" cy="1981.4" r="4.2" fill="#ff1010"/>
<circle cx="338.5" cy="1981.4" r="4.2" fill="#ff1010"/>
<circle cx="353.3" cy="1981.4" r="4.2" fill="#ff1010"/>
<circle cx="368.2" cy="1981.4" r="4.2" fill="#ff1010"/>
<circle cx="383.0" cy="1981.4" r="4.2" fill="#ff1010"/>
<circle cx="397.9" cy="1981.4" r="4.2" fill="#ff1010"/>
<circle cx="412.7" cy="1981.4" r="4.2" fill="#ff1010"/>
<circle cx="427.6" cy="1981.4" r="4.2" fill="#ff1010"/>
<circle cx="442.4" cy="1981.4" r="4.2" fill="#ff1010"/>
<circle cx="457.3" cy="1981.4" r="4.2" fill="#ff1010"/>
<circle cx="472.1" cy="1981.4" r="4.2" fill="#ff1010"/>
<circle cx="487.0" cy="1981.4" r="4.2" fill="#ff1010"/>
<circle cx="501.8" cy="1981.4" r="4.2" fill="#ff1010"/>
<circle cx="516.7" cy="1981.4" r="4.2" fill="#ff1010"/>
<circle cx="531.5" cy="1981.4" r="4.2" fill="#ff1010"/>
<circle cx="546.4" cy="1981.4" r="4.2" fill="#ff1010"/>
<circle cx="561.2" cy="1981.4" r="4.2" fill="#ff1010"/>
<circle cx="576.1" cy="1981.4" r="4.2" fill="#ff1010"/>
<circle cx="590.9" cy="1981.4" r="4.2" fill="#ff1010"/>
<circle cx="605.8" cy="1981.4" r="4.2" fill="#ff1010"/>
<circle cx="620.6" cy="1981.4" r="4.2" fill="#ff1010"/>
<circle cx="635.5" cy="1981.4" r="4.2" fill="#ff1010"/>
<circle cx="650.3" cy="1981.4" r="4.2" fill="#ff1010"/>
<circle cx="665.2" cy="1981.4" r="4.2" fill="#ff1010"/>
<circle cx="680.0" cy="1981.4" r="4.2" fill="#ff1010"/>
<polygon points="231.4,1981.4 227.03,1989.22 235.77,1989.22" fill="#44ee44"/>
<polygon points="258.0,1981.4 253.63,1989.22 262.37,1989.22" fill="#44ee44"/>
<polygon points="284.6,1981.4 280.23,1989.22 288.97,1989.22" fill="#44ee44"/>
<polygon points="311.2,1981.4 306.83,1989.22 315.57,1989.22" fill="#44ee44"/>
<polygon points="337.8,1981.4 333.43,1989.22 342.17,1989.22" fill="#44ee44"/>
<polygon points="364.4,1981.4 360.03,1989.22 368.77,1989.22" fill="#44ee44"/>
<polygon points="391.0,1981.4 386.63,1989.22 395.37,1989.22" fill="#44ee44"/>
<polygon points="417.6,1981.4 413.23,1989.22 421.97,1989.22" fill="#44ee44"/>
<polygon points="444.2,1981.4 439.83,1989.22 448.57,1989.22" fill="#44ee44"/>
<polygon points="470.8,1981.4 466.43,1989.22 475.17,1989.22" fill="#44ee44"/>
<polygon points="497.4,1981.4 493.03,1989.22 501.77,1989.22" fill="#44ee44"/>
<polygon points="524.0,1981.4 519.63,1989.22 528.37,1989.22" fill="#44ee44"/>
<polygon points="550.6,1981.4 546.23,1989.22 554.97,1989.22" fill="#44ee44"/>
<polygon points="577.2,1981.4 572.83,1989.22 581.57,1989.22" fill="#44ee44"/>
<polygon points="603.8,1981.4 599.43,1989.22 608.17,1989.22" fill="#44ee44"/>
<polygon points="630.4,1981.4 626.03,1989.22 634.77,1989.22" fill="#44ee44"/>
<polygon points="657.0,1981.4 652.63,1989.22 661.37,1989.22" fill="#44ee44"/>
<polygon points="234.5,1991.3 230.225,1983.6499999999999 238.775,1983.6499999999999" fill="#e8b860"/>
<polygon points="264.2,1991.3 259.925,1983.6499999999999 268.47499999999997,1983.6499999999999" fill="#e8b860"/>
<polygon points="293.9,1991.3 289.625,1983.6499999999999 298.17499999999995,1983.6499999999999" fill="#e8b860"/>
<polygon points="323.6,1991.3 319.32500000000005,1983.6499999999999 327.875,1983.6499999999999" fill="#e8b860"/>
<polygon points="353.3,1991.3 349.02500000000003,1983.6499999999999 357.575,1983.6499999999999" fill="#e8b860"/>
<polygon points="383.0,1991.3 378.725,1983.6499999999999 387.275,1983.6499999999999" fill="#e8b860"/>
<polygon points="412.7,1991.3 408.425,1983.6499999999999 416.97499999999997,1983.6499999999999" fill="#e8b860"/>
<polygon points="442.4,1991.3 438.125,1983.6499999999999 446.67499999999995,1983.6499999999999" fill="#e8b860"/>
<polygon points="472.1,1991.3 467.82500000000005,1983.6499999999999 476.375,1983.6499999999999" fill="#e8b860"/>
<polygon points="501.8,1991.3 497.52500000000003,1983.6499999999999 506.075,1983.6499999999999" fill="#e8b860"/>
<polygon points="531.5,1991.3 527.225,1983.6499999999999 535.775,1983.6499999999999" fill="#e8b860"/>
<polygon points="561.2,1991.3 556.9250000000001,1983.6499999999999 565.475,1983.6499999999999" fill="#e8b860"/>
<polygon points="590.9,1991.3 586.625,1983.6499999999999 595.175,1983.6499999999999" fill="#e8b860"/>
<polygon points="620.6,1991.3 616.325,1983.6499999999999 624.875,1983.6499999999999" fill="#e8b860"/>
<polygon points="650.3,1991.3 646.025,1983.6499999999999 654.5749999999999,1983.6499999999999" fill="#e8b860"/>
<polygon points="680.0,1991.3 675.725,1983.6499999999999 684.275,1983.6499999999999" fill="#e8b860"/>
<polyline points="426.0,1872.3 472.5,1872.3" fill="none" stroke="#333" stroke-width="1.5" stroke-dasharray="7,9" stroke-linecap="butt" stroke-linejoin="miter" />
<rect x="445.8" y="1869.1" width="6.4" height="6.4" fill="#000"/>
<text x="478.6" y="1879.3" font-family='"Liberation Serif", serif' font-size="20.3" font-weight="normal" text-anchor="start" fill="#000" >WOA-FOPID-Integer order</text>
<polyline points="426.0,1897.5 472.5,1897.5" fill="none" stroke="#ee3333" stroke-width="1.5" stroke-linecap="butt" stroke-linejoin="miter" />
<circle cx="449" cy="1897.5" r="4" fill="#ee2222"/>
<text x="478.6" y="1904.5" font-family='"Liberation Serif", serif' font-size="20.3" font-weight="normal" text-anchor="start" fill="#000" >WOA-FOPID-Fractional order</text>
<polyline points="426.0,1922.5 472.5,1922.5" fill="none" stroke="#55ee55" stroke-width="1.3" stroke-dasharray="1.5,5" stroke-linecap="butt" stroke-linejoin="miter" />
<polygon points="449,1917.9 444.63,1925.72 453.37,1925.72" fill="#44ee44"/>
<text x="478.6" y="1929.5" font-family='"Liberation Serif", serif' font-size="20.3" font-weight="normal" text-anchor="start" fill="#000" >WOA-PID-Integer order</text>
<polyline points="426.0,1948.0 472.5,1948.0" fill="none" stroke="#e8b860" stroke-width="1.2" stroke-dasharray="6,3,1.5,3" stroke-linecap="butt" stroke-linejoin="miter" />
<polygon points="449,1952.6 444.63,1944.78 453.37,1944.78" fill="#e8b860"/>
<text x="478.6" y="1955" font-family='"Liberation Serif", serif' font-size="20.3" font-weight="normal" text-anchor="start" fill="#000" >WOA-PID-Fractional order</text>
<line x1="290.9" y1="2043.4" x2="290.9" y2="2296.5" stroke="#555" stroke-width="1.5" />
<line x1="290.9" y1="2296.5" x2="687.6" y2="2296.5" stroke="#555" stroke-width="1.5" />
<line x1="284.9" y1="2147.2" x2="290.9" y2="2147.2" stroke="#555" stroke-width="1.3" />
<text x="278.35" y="2154.7" font-family='"Liberation Serif", serif' font-size="18" font-weight="normal" text-anchor="middle" fill="#000" >0</text>
<text x="267.49" y="2154.7" font-family='"Liberation Serif", serif' font-size="18" font-weight="normal" text-anchor="middle" fill="#000" >.</text>
<text x="260.55" y="2154.7" font-family='"Liberation Serif", serif' font-size="18" font-weight="normal" text-anchor="middle" fill="#000" >1</text>
<line x1="287.4" y1="2058.7" x2="290.9" y2="2058.7" stroke="#555" stroke-width="1.3" />
<line x1="287.4" y1="2235.6" x2="290.9" y2="2235.6" stroke="#555" stroke-width="1.3" />
<line x1="329.2" y1="2296.5" x2="329.2" y2="2302.5" stroke="#555" stroke-width="1.3" />
<text x="337.8" y="2320.0" font-family='"Liberation Serif", serif' font-size="18" font-weight="normal" text-anchor="middle" fill="#000" >0</text>
<text x="327.31" y="2320.0" font-family='"Liberation Serif", serif' font-size="18" font-weight="normal" text-anchor="middle" fill="#000" >.</text>
<text x="320.6" y="2320.0" font-family='"Liberation Serif", serif' font-size="18" font-weight="normal" text-anchor="middle" fill="#000" >0</text>
<line x1="502.4" y1="2296.5" x2="502.4" y2="2302.5" stroke="#555" stroke-width="1.3" />
<text x="511.0" y="2320.0" font-family='"Liberation Serif", serif' font-size="18" font-weight="normal" text-anchor="middle" fill="#000" >2</text>
<text x="500.51" y="2320.0" font-family='"Liberation Serif", serif' font-size="18" font-weight="normal" text-anchor="middle" fill="#000" >.</text>
<text x="493.8" y="2320.0" font-family='"Liberation Serif", serif' font-size="18" font-weight="normal" text-anchor="middle" fill="#000" >0</text>
<line x1="675.6" y1="2296.5" x2="675.6" y2="2302.5" stroke="#555" stroke-width="1.3" />
<text x="684.2" y="2320.0" font-family='"Liberation Serif", serif' font-size="18" font-weight="normal" text-anchor="middle" fill="#000" >4</text>
<text x="673.71" y="2320.0" font-family='"Liberation Serif", serif' font-size="18" font-weight="normal" text-anchor="middle" fill="#000" >.</text>
<text x="667.0" y="2320.0" font-family='"Liberation Serif", serif' font-size="18" font-weight="normal" text-anchor="middle" fill="#000" >0</text>
<line x1="415.6" y1="2296.5" x2="415.6" y2="2300.0" stroke="#555" stroke-width="1.3" />
<line x1="589.4" y1="2296.5" x2="589.4" y2="2300.0" stroke="#555" stroke-width="1.3" />
<text x="453.8" y="2311.7" font-family='"Liberation Serif", serif' font-size="22" font-weight="normal" text-anchor="middle" fill="#000" >t</text>
<polyline points="333.0,2296.0 340.0,2150.0 346.0,2070.0 352.0,2160.0 358.0,2230.0 366.0,2120.0 372.0,2070.0 382.0,2190.0 396.0,2090.0 408.0,2180.0 424.0,2100.0 438.0,2175.0 452.0,2115.0 468.0,2170.0 478.0,2128.0 494.0,2170.0 504.0,2132.0 520.0,2168.0 534.0,2140.0 552.0,2160.0 575.0,2150.0 600.0,2155.0 630.0,2148.0 687.0,2152.0" fill="none" stroke="#66ee66" stroke-width="1.2" stroke-dasharray="1.5,6" stroke-linecap="butt" stroke-linejoin="round" />
<polyline points="334.7,2296.5 337.0,2186.3 343.9,2102.5 349.5,2122.1 352.3,2150.0 355.1,2180.7 358.7,2182.1 364.9,2161.1 373.2,2134.6 383.0,2161.1 392.8,2144.4 415.1,2150.5 451.4,2149.4 503.5,2150.8 567.7,2152.2 665.3,2152.8 687.6,2152.8" fill="none" stroke="#444" stroke-width="3.6" stroke-dasharray="12,8" stroke-linecap="butt" stroke-linejoin="round" />
<polyline points="334.7,2296.5 340.3,2175.1 345.9,2056.5 350.9,2136.0 355.1,2211.4 364.9,2141.6 371.8,2077.4 381.6,2197.4 395.6,2094.2 408.1,2175.1 423.5,2105.3 437.4,2172.3 451.4,2119.3 466.7,2168.1 475.6,2133.8 492.3,2166.7 502.1,2136.0 518.8,2163.9 532.8,2143.8 549.5,2157.0 571.8,2152.8 601.1,2152.8 627.6,2152.8 662.5,2150.0 684.8,2154.2" fill="none" stroke="#e8b860" stroke-width="4" stroke-dasharray="12,11" stroke-linecap="butt" stroke-linejoin="round" />
<polyline points="352.3,2296.5 362.1,2177.9 372.7,2135.5 381.6,2147.2 390.0,2175.1 398.3,2196.9 406.7,2195.5 423.5,2166.2 433.2,2157.8 441.6,2157.8 459.7,2163.4 469.5,2162.5 490.4,2155.6 501.6,2153.6 514.6,2154.2 539.8,2152.8 581.6,2151.4 623.5,2150.0 687.6,2149.1" fill="none" stroke="#ee3333" stroke-width="3" stroke-linecap="butt" stroke-linejoin="round" />
</svg></body></html>
